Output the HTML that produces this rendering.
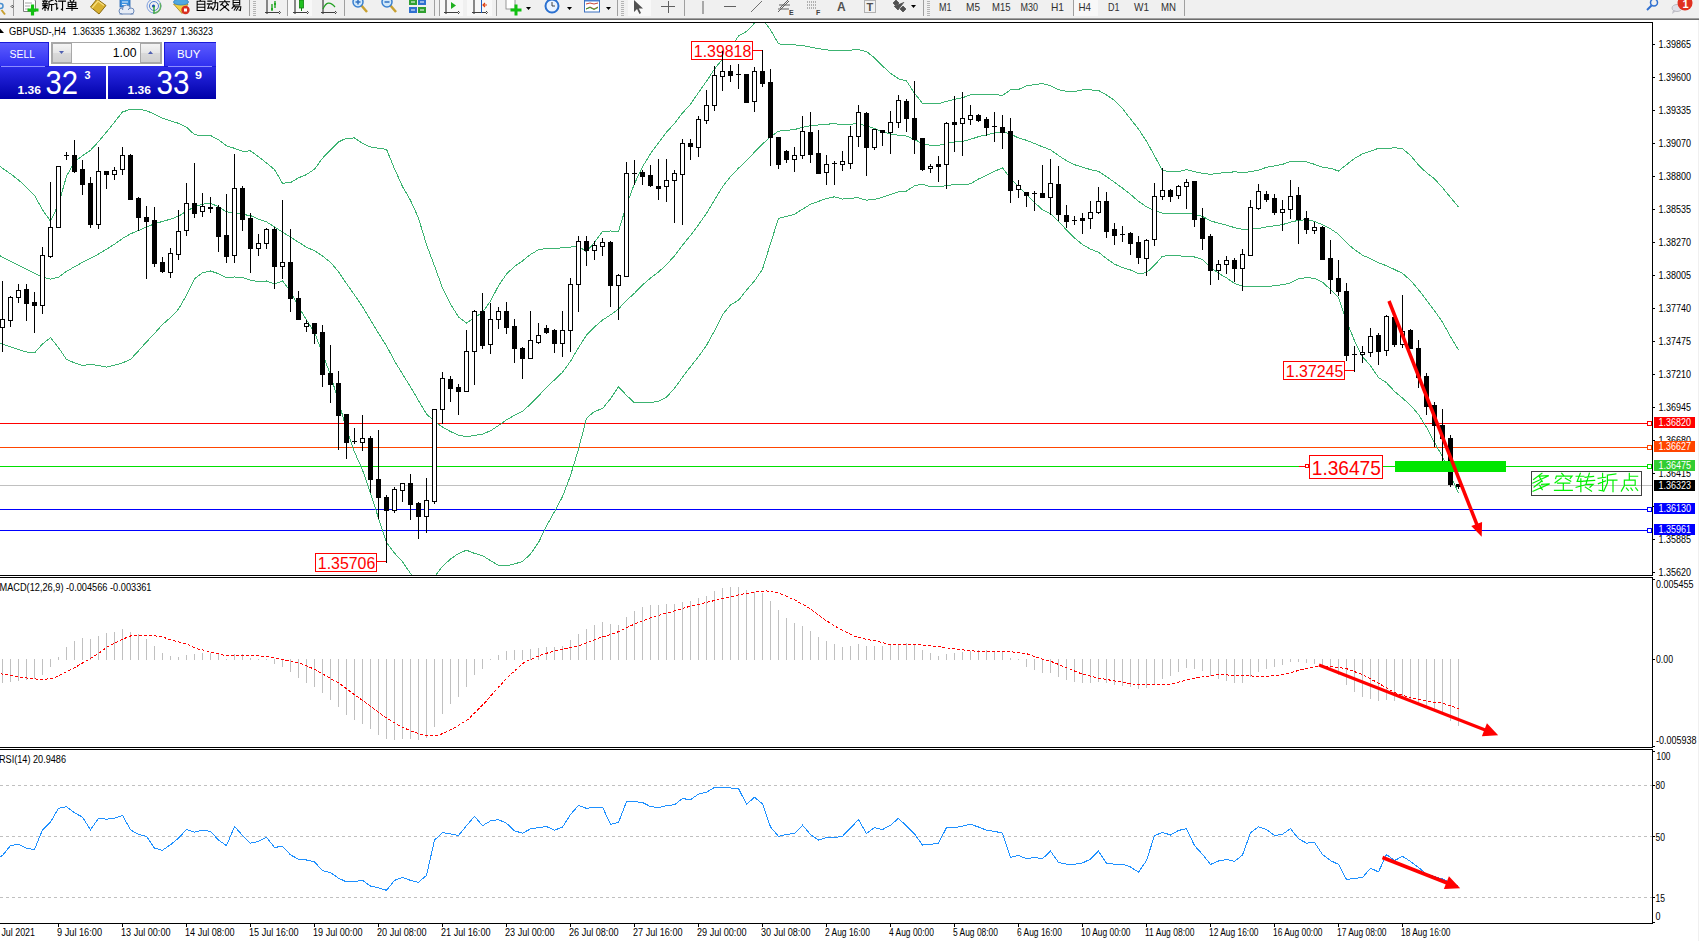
<!DOCTYPE html>
<html><head><meta charset="utf-8"><style>
html,body{margin:0;padding:0;background:#fff;width:1699px;height:941px;overflow:hidden}
svg text{font-family:"Liberation Sans",sans-serif}
</style></head><body>
<svg width="1699" height="941" viewBox="0 0 1699 941" style="display:block;font-family:'Liberation Sans', sans-serif">
<rect x="0" y="0" width="1699" height="941" fill="#ffffff"/>
<g shape-rendering="crispEdges">
<rect x="0" y="22" width="1653" height="1" fill="#000"/>
<rect x="1652" y="22" width="1" height="554" fill="#000"/>
<rect x="0" y="575" width="1653" height="1" fill="#000"/>
<rect x="0" y="577" width="1653" height="1" fill="#000"/>
<rect x="1652" y="577" width="1" height="171" fill="#000"/>
<rect x="0" y="747" width="1653" height="1" fill="#000"/>
<rect x="0" y="749" width="1653" height="1" fill="#000"/>
<rect x="1652" y="749" width="1" height="175" fill="#000"/>
<rect x="0" y="923" width="1653" height="1" fill="#000"/>
</g>
<g shape-rendering="crispEdges">
<rect x="1653" y="44" width="2" height="1" fill="#000"/>
<rect x="1653" y="77" width="2" height="1" fill="#000"/>
<rect x="1653" y="110" width="2" height="1" fill="#000"/>
<rect x="1653" y="143" width="2" height="1" fill="#000"/>
<rect x="1653" y="176" width="2" height="1" fill="#000"/>
<rect x="1653" y="209" width="2" height="1" fill="#000"/>
<rect x="1653" y="242" width="2" height="1" fill="#000"/>
<rect x="1653" y="275" width="2" height="1" fill="#000"/>
<rect x="1653" y="308" width="2" height="1" fill="#000"/>
<rect x="1653" y="341" width="2" height="1" fill="#000"/>
<rect x="1653" y="374" width="2" height="1" fill="#000"/>
<rect x="1653" y="407" width="2" height="1" fill="#000"/>
<rect x="1653" y="440" width="2" height="1" fill="#000"/>
<rect x="1653" y="473" width="2" height="1" fill="#000"/>
<rect x="1653" y="506" width="2" height="1" fill="#000"/>
<rect x="1653" y="539" width="2" height="1" fill="#000"/>
<rect x="1653" y="572" width="2" height="1" fill="#000"/>
</g>
<text x="1658.5" y="47.6" font-size="10" fill="#000" text-anchor="start" font-weight="normal" textLength="32.5" lengthAdjust="spacingAndGlyphs" >1.39865</text>
<text x="1658.5" y="80.6" font-size="10" fill="#000" text-anchor="start" font-weight="normal" textLength="32.5" lengthAdjust="spacingAndGlyphs" >1.39600</text>
<text x="1658.5" y="113.6" font-size="10" fill="#000" text-anchor="start" font-weight="normal" textLength="32.5" lengthAdjust="spacingAndGlyphs" >1.39335</text>
<text x="1658.5" y="146.6" font-size="10" fill="#000" text-anchor="start" font-weight="normal" textLength="32.5" lengthAdjust="spacingAndGlyphs" >1.39070</text>
<text x="1658.5" y="179.6" font-size="10" fill="#000" text-anchor="start" font-weight="normal" textLength="32.5" lengthAdjust="spacingAndGlyphs" >1.38800</text>
<text x="1658.5" y="212.6" font-size="10" fill="#000" text-anchor="start" font-weight="normal" textLength="32.5" lengthAdjust="spacingAndGlyphs" >1.38535</text>
<text x="1658.5" y="245.6" font-size="10" fill="#000" text-anchor="start" font-weight="normal" textLength="32.5" lengthAdjust="spacingAndGlyphs" >1.38270</text>
<text x="1658.5" y="278.6" font-size="10" fill="#000" text-anchor="start" font-weight="normal" textLength="32.5" lengthAdjust="spacingAndGlyphs" >1.38005</text>
<text x="1658.5" y="311.6" font-size="10" fill="#000" text-anchor="start" font-weight="normal" textLength="32.5" lengthAdjust="spacingAndGlyphs" >1.37740</text>
<text x="1658.5" y="344.6" font-size="10" fill="#000" text-anchor="start" font-weight="normal" textLength="32.5" lengthAdjust="spacingAndGlyphs" >1.37475</text>
<text x="1658.5" y="377.6" font-size="10" fill="#000" text-anchor="start" font-weight="normal" textLength="32.5" lengthAdjust="spacingAndGlyphs" >1.37210</text>
<text x="1658.5" y="410.6" font-size="10" fill="#000" text-anchor="start" font-weight="normal" textLength="32.5" lengthAdjust="spacingAndGlyphs" >1.36945</text>
<text x="1658.5" y="443.6" font-size="10" fill="#000" text-anchor="start" font-weight="normal" textLength="32.5" lengthAdjust="spacingAndGlyphs" >1.36680</text>
<text x="1658.5" y="476.6" font-size="10" fill="#000" text-anchor="start" font-weight="normal" textLength="32.5" lengthAdjust="spacingAndGlyphs" >1.36415</text>
<text x="1658.5" y="542.6" font-size="10" fill="#000" text-anchor="start" font-weight="normal" textLength="32.5" lengthAdjust="spacingAndGlyphs" >1.35885</text>
<text x="1658.5" y="575.6" font-size="10" fill="#000" text-anchor="start" font-weight="normal" textLength="32.5" lengthAdjust="spacingAndGlyphs" >1.35620</text>
<g shape-rendering="crispEdges">
<rect x="0" y="485" width="1652" height="1" fill="#c0c0c0"/>
<rect x="0" y="423" width="1652" height="1" fill="#ff0000"/>
<rect x="0" y="447" width="1652" height="1" fill="#ff4500"/>
<rect x="0" y="466" width="1652" height="1" fill="#00e000"/>
<rect x="0" y="509" width="1652" height="1" fill="#0000ff"/>
<rect x="0" y="530" width="1652" height="1" fill="#0000ff"/>
</g>
<g clip-path="url(#mainclip)">
<clipPath id="mainclip"><rect x="0" y="23" width="1652" height="552"/></clipPath>
<polyline points="0.0,166.5 2.5,168.2 10.5,173.8 18.5,180.0 26.5,187.2 34.5,195.4 42.5,209.8 50.5,221.2 58.5,204.3 66.5,176.3 74.5,161.9 82.5,155.6 90.5,150.3 98.5,141.7 106.5,132.1 114.5,122.1 122.5,112.0 130.5,109.3 138.5,109.1 146.5,110.7 154.5,114.1 162.5,118.3 170.5,120.9 178.5,123.3 186.5,127.2 194.5,134.6 202.5,135.7 210.5,135.5 218.5,139.8 226.5,145.8 234.5,148.3 242.5,151.3 250.5,150.9 258.5,156.8 266.5,162.9 274.5,169.6 282.5,183.2 290.5,182.6 298.5,177.8 306.5,174.6 314.5,169.1 322.5,158.3 330.5,149.9 338.5,142.0 346.5,138.1 354.5,138.0 362.5,143.3 370.5,147.0 378.5,148.3 386.5,149.3 394.5,168.8 402.5,186.5 410.5,200.4 418.5,218.1 426.5,244.7 434.5,265.9 442.5,288.0 450.5,304.1 458.5,316.9 466.5,323.0 474.5,317.6 482.5,312.5 490.5,301.0 498.5,285.8 506.5,274.0 514.5,266.5 522.5,260.9 530.5,254.4 538.5,249.8 546.5,248.4 554.5,248.2 562.5,247.9 570.5,247.1 578.5,245.9 586.5,251.9 594.5,242.3 602.5,231.5 610.5,231.0 618.5,231.4 626.5,205.1 634.5,183.6 642.5,166.8 650.5,153.7 658.5,142.7 666.5,132.1 674.5,123.5 682.5,113.0 690.5,104.2 698.5,92.6 706.5,81.2 714.5,69.0 722.5,59.1 730.5,48.1 738.5,36.0 746.5,31.4 754.5,23.2 762.5,19.0 770.5,29.8 778.5,43.9 786.5,44.4 794.5,44.9 802.5,45.4 810.5,47.2 818.5,48.6 826.5,49.9 834.5,50.6 842.5,50.1 850.5,50.1 858.5,49.6 866.5,51.5 874.5,57.8 882.5,65.9 890.5,73.3 898.5,78.8 906.5,81.0 914.5,93.1 922.5,103.4 930.5,103.7 938.5,103.7 946.5,101.4 954.5,99.4 962.5,97.7 970.5,94.9 978.5,94.4 986.5,94.4 994.5,94.6 1002.5,95.4 1010.5,89.9 1018.5,89.5 1026.5,85.9 1034.5,84.6 1042.5,83.6 1050.5,85.8 1058.5,89.8 1066.5,91.3 1074.5,91.4 1082.5,90.0 1090.5,89.9 1098.5,90.4 1106.5,94.9 1114.5,100.3 1122.5,108.6 1130.5,118.9 1138.5,129.0 1146.5,141.2 1154.5,155.7 1162.5,170.6 1170.5,171.5 1178.5,171.7 1186.5,169.5 1194.5,171.7 1202.5,173.2 1210.5,174.3 1218.5,173.2 1226.5,172.6 1234.5,171.8 1242.5,172.4 1250.5,171.8 1258.5,170.2 1266.5,167.3 1274.5,165.9 1282.5,164.4 1290.5,161.5 1298.5,161.8 1306.5,161.9 1314.5,164.3 1322.5,167.3 1330.5,168.3 1338.5,171.0 1346.5,164.7 1354.5,158.4 1362.5,153.9 1370.5,151.3 1378.5,148.3 1386.5,148.7 1394.5,147.6 1402.5,148.7 1410.5,155.5 1418.5,165.0 1426.5,172.7 1434.5,178.8 1442.5,187.7 1450.5,197.4 1458.5,207.0" fill="none" stroke="#3cb371" stroke-width="1" shape-rendering="crispEdges"/>
<polyline points="0.0,255.8 2.5,257.1 10.5,261.1 18.5,265.1 26.5,269.1 34.5,273.1 42.5,277.1 50.5,279.2 58.5,277.2 66.5,271.4 74.5,266.8 82.5,262.3 90.5,258.3 98.5,254.1 106.5,249.3 114.5,244.2 122.5,238.5 130.5,233.8 138.5,230.5 146.5,227.1 154.5,223.8 162.5,221.4 170.5,219.2 178.5,216.2 186.5,211.2 194.5,206.7 202.5,204.2 210.5,203.2 218.5,206.8 226.5,211.8 234.5,212.7 242.5,214.4 250.5,215.6 258.5,219.2 266.5,221.9 274.5,226.8 282.5,232.1 290.5,237.1 298.5,242.2 306.5,247.2 314.5,250.8 322.5,255.9 330.5,262.4 338.5,271.6 346.5,283.6 354.5,295.0 362.5,306.6 370.5,320.1 378.5,333.2 386.5,345.9 394.5,360.9 402.5,374.1 410.5,386.9 418.5,400.6 426.5,414.1 434.5,421.3 442.5,427.1 450.5,431.6 458.5,435.2 466.5,436.6 474.5,435.5 482.5,434.1 490.5,430.8 498.5,425.6 506.5,419.9 514.5,415.2 522.5,411.2 530.5,404.2 538.5,396.1 546.5,387.2 554.5,379.9 562.5,372.3 570.5,361.3 578.5,347.6 586.5,335.1 594.5,326.9 602.5,320.1 610.5,314.9 618.5,309.1 626.5,300.2 634.5,293.3 642.5,284.9 650.5,278.1 658.5,272.0 666.5,264.6 674.5,255.9 682.5,245.2 690.5,235.4 698.5,224.7 706.5,213.3 714.5,199.9 722.5,186.9 730.5,176.5 738.5,168.2 746.5,160.8 754.5,152.1 762.5,144.1 770.5,136.7 778.5,131.2 786.5,130.4 794.5,129.6 802.5,127.3 810.5,125.8 818.5,125.0 826.5,124.2 834.5,123.7 842.5,124.6 850.5,124.1 858.5,123.8 866.5,125.8 874.5,128.6 882.5,131.6 890.5,133.9 898.5,135.2 906.5,136.1 914.5,139.4 922.5,143.8 930.5,145.2 938.5,145.3 946.5,143.5 954.5,141.9 962.5,141.3 970.5,139.3 978.5,136.7 986.5,134.8 994.5,133.0 1002.5,131.6 1010.5,134.2 1018.5,137.9 1026.5,140.3 1034.5,143.5 1042.5,146.8 1050.5,149.8 1058.5,155.5 1066.5,160.7 1074.5,164.7 1082.5,167.2 1090.5,169.6 1098.5,171.3 1106.5,176.7 1114.5,182.2 1122.5,188.1 1130.5,194.4 1138.5,201.3 1146.5,206.9 1154.5,210.4 1162.5,213.3 1170.5,213.7 1178.5,213.7 1186.5,213.1 1194.5,214.3 1202.5,216.4 1210.5,220.8 1218.5,223.2 1226.5,225.2 1234.5,227.6 1242.5,229.3 1250.5,229.1 1258.5,228.6 1266.5,226.9 1274.5,225.8 1282.5,224.6 1290.5,222.2 1298.5,220.3 1306.5,219.8 1314.5,221.3 1322.5,224.8 1330.5,228.9 1338.5,234.2 1346.5,242.8 1354.5,249.6 1362.5,255.2 1370.5,258.6 1378.5,262.9 1386.5,265.7 1394.5,269.5 1402.5,273.4 1410.5,280.4 1418.5,289.7 1426.5,300.1 1434.5,310.7 1442.5,322.1 1450.5,336.6 1458.5,349.9" fill="none" stroke="#3cb371" stroke-width="1" shape-rendering="crispEdges"/>
<polyline points="0.0,343.4 2.5,344.2 10.5,346.9 18.5,349.6 26.5,352.0 34.5,352.9 42.5,344.0 50.5,337.6 58.5,347.6 66.5,359.5 74.5,362.8 82.5,365.5 90.5,364.4 98.5,365.5 106.5,367.2 114.5,365.2 122.5,362.9 130.5,359.5 138.5,350.8 146.5,341.9 154.5,333.5 162.5,324.5 170.5,317.5 178.5,309.2 186.5,295.3 194.5,278.7 202.5,272.7 210.5,271.0 218.5,273.7 226.5,277.8 234.5,277.0 242.5,277.5 250.5,280.3 258.5,281.6 266.5,281.0 274.5,283.9 282.5,281.0 290.5,291.5 298.5,306.5 306.5,319.9 314.5,332.4 322.5,353.5 330.5,375.0 338.5,401.3 346.5,429.1 354.5,452.0 362.5,469.9 370.5,493.3 378.5,518.1 386.5,542.5 394.5,553.1 402.5,561.8 410.5,573.5 418.5,583.1 426.5,583.6 434.5,576.7 442.5,566.2 450.5,559.1 458.5,553.5 466.5,550.2 474.5,553.4 482.5,555.6 490.5,560.6 498.5,565.4 506.5,565.7 514.5,563.9 522.5,561.5 530.5,554.1 538.5,542.5 546.5,526.1 554.5,511.7 562.5,496.7 570.5,475.5 578.5,449.2 586.5,418.2 594.5,411.4 602.5,408.6 610.5,398.8 618.5,386.8 626.5,395.3 634.5,403.0 642.5,402.9 650.5,402.6 658.5,401.3 666.5,397.2 674.5,388.3 682.5,377.3 690.5,366.7 698.5,356.7 706.5,345.4 714.5,330.8 722.5,314.8 730.5,304.9 738.5,300.3 746.5,290.1 754.5,280.9 762.5,269.2 770.5,243.6 778.5,218.4 786.5,216.5 794.5,214.2 802.5,209.2 810.5,204.3 818.5,201.4 826.5,198.5 834.5,196.8 842.5,199.1 850.5,198.1 858.5,197.9 866.5,200.2 874.5,199.3 882.5,197.3 890.5,194.6 898.5,191.7 906.5,191.1 914.5,185.8 922.5,184.1 930.5,186.7 938.5,186.9 946.5,185.6 954.5,184.5 962.5,184.9 970.5,183.8 978.5,179.0 986.5,175.3 994.5,171.4 1002.5,167.7 1010.5,178.6 1018.5,186.3 1026.5,194.7 1034.5,202.4 1042.5,209.9 1050.5,213.8 1058.5,221.2 1066.5,230.0 1074.5,238.0 1082.5,244.5 1090.5,249.2 1098.5,252.2 1106.5,258.5 1114.5,264.2 1122.5,267.5 1130.5,270.0 1138.5,273.6 1146.5,272.7 1154.5,265.2 1162.5,256.1 1170.5,255.8 1178.5,255.7 1186.5,256.6 1194.5,257.0 1202.5,259.6 1210.5,267.2 1218.5,273.3 1226.5,277.8 1234.5,283.4 1242.5,286.2 1250.5,286.3 1258.5,286.9 1266.5,286.6 1274.5,285.7 1282.5,284.7 1290.5,282.9 1298.5,278.8 1306.5,277.6 1314.5,278.3 1322.5,282.2 1330.5,289.5 1338.5,297.3 1346.5,320.9 1354.5,340.7 1362.5,356.6 1370.5,365.8 1378.5,377.5 1386.5,382.7 1394.5,391.4 1402.5,398.0 1410.5,405.3 1418.5,414.4 1426.5,427.4 1434.5,442.6 1442.5,456.6 1450.5,475.7 1458.5,492.8" fill="none" stroke="#3cb371" stroke-width="1" shape-rendering="crispEdges"/>
</g>
<g shape-rendering="crispEdges">
<rect x="753" y="50" width="9" height="1" fill="#ff0000"/>
</g>
<rect x="691.5" y="41.5" width="61" height="18" fill="#fff" stroke="#ff0000" stroke-width="1" shape-rendering="crispEdges"/>
<text x="693.8" y="57" font-size="16.5" fill="#ff0000" text-anchor="start" font-weight="normal" textLength="57.5" lengthAdjust="spacingAndGlyphs" >1.39818</text>
<g shape-rendering="crispEdges">
<rect x="377" y="561" width="9" height="1" fill="#ff0000"/>
</g>
<rect x="315.5" y="553.5" width="61" height="18" fill="#fff" stroke="#ff0000" stroke-width="1" shape-rendering="crispEdges"/>
<text x="317.8" y="569" font-size="16.5" fill="#ff0000" text-anchor="start" font-weight="normal" textLength="57.5" lengthAdjust="spacingAndGlyphs" >1.35706</text>
<g shape-rendering="crispEdges">
<rect x="1345" y="370" width="9" height="1" fill="#ff0000"/>
</g>
<rect x="1283.5" y="361.5" width="61" height="18" fill="#fff" stroke="#ff0000" stroke-width="1" shape-rendering="crispEdges"/>
<text x="1285.8" y="377" font-size="16.5" fill="#ff0000" text-anchor="start" font-weight="normal" textLength="57.5" lengthAdjust="spacingAndGlyphs" >1.37245</text>
<g shape-rendering="crispEdges">
<rect x="1299" y="466" width="6" height="1" fill="#ff0000"/>
</g>
<rect x="1305.5" y="464.5" width="3" height="3" fill="#fff" stroke="#ff0000" stroke-width="1" shape-rendering="crispEdges"/>
<rect x="1309.5" y="455.5" width="73" height="23" fill="#fff" stroke="#ff0000" stroke-width="1" shape-rendering="crispEdges"/>
<text x="1311.8" y="474.5" font-size="21" fill="#ff0000" text-anchor="start" font-weight="normal" textLength="69" lengthAdjust="spacingAndGlyphs" >1.36475</text>
<g shape-rendering="crispEdges" clip-path="url(#mainclip)">
<rect x="2" y="281" width="1" height="71" fill="#000"/>
<rect x="0" y="319" width="5" height="9" fill="#000"/>
<rect x="1" y="320" width="3" height="7" fill="#fff"/>
<rect x="10" y="296" width="1" height="31" fill="#000"/>
<rect x="8" y="297" width="5" height="24" fill="#000"/>
<rect x="9" y="298" width="3" height="22" fill="#fff"/>
<rect x="18" y="284" width="1" height="19" fill="#000"/>
<rect x="16" y="290" width="5" height="8" fill="#000"/>
<rect x="17" y="291" width="3" height="6" fill="#fff"/>
<rect x="26" y="284" width="1" height="37" fill="#000"/>
<rect x="24" y="289" width="5" height="15" fill="#000"/>
<rect x="34" y="292" width="1" height="41" fill="#000"/>
<rect x="32" y="302" width="5" height="4" fill="#000"/>
<rect x="42" y="247" width="1" height="67" fill="#000"/>
<rect x="40" y="255" width="5" height="51" fill="#000"/>
<rect x="41" y="256" width="3" height="49" fill="#fff"/>
<rect x="50" y="182" width="1" height="76" fill="#000"/>
<rect x="48" y="227" width="5" height="30" fill="#000"/>
<rect x="49" y="228" width="3" height="28" fill="#fff"/>
<rect x="58" y="166" width="1" height="62" fill="#000"/>
<rect x="56" y="166" width="5" height="62" fill="#000"/>
<rect x="57" y="167" width="3" height="60" fill="#fff"/>
<rect x="66" y="152" width="1" height="8" fill="#000"/>
<rect x="64" y="155" width="5" height="1" fill="#000"/>
<rect x="74" y="140" width="1" height="33" fill="#000"/>
<rect x="72" y="155" width="5" height="17" fill="#000"/>
<rect x="82" y="160" width="1" height="35" fill="#000"/>
<rect x="80" y="169" width="5" height="16" fill="#000"/>
<rect x="90" y="177" width="1" height="51" fill="#000"/>
<rect x="88" y="183" width="5" height="42" fill="#000"/>
<rect x="98" y="147" width="1" height="82" fill="#000"/>
<rect x="96" y="171" width="5" height="54" fill="#000"/>
<rect x="97" y="172" width="3" height="52" fill="#fff"/>
<rect x="106" y="171" width="1" height="18" fill="#000"/>
<rect x="104" y="171" width="5" height="4" fill="#000"/>
<rect x="114" y="167" width="1" height="13" fill="#000"/>
<rect x="112" y="170" width="5" height="5" fill="#000"/>
<rect x="113" y="171" width="3" height="3" fill="#fff"/>
<rect x="122" y="147" width="1" height="28" fill="#000"/>
<rect x="120" y="155" width="5" height="15" fill="#000"/>
<rect x="121" y="156" width="3" height="13" fill="#fff"/>
<rect x="130" y="154" width="1" height="46" fill="#000"/>
<rect x="128" y="155" width="5" height="45" fill="#000"/>
<rect x="138" y="197" width="1" height="34" fill="#000"/>
<rect x="136" y="198" width="5" height="20" fill="#000"/>
<rect x="146" y="206" width="1" height="73" fill="#000"/>
<rect x="144" y="217" width="5" height="5" fill="#000"/>
<rect x="154" y="207" width="1" height="60" fill="#000"/>
<rect x="152" y="220" width="5" height="44" fill="#000"/>
<rect x="162" y="257" width="1" height="16" fill="#000"/>
<rect x="160" y="262" width="5" height="10" fill="#000"/>
<rect x="170" y="248" width="1" height="30" fill="#000"/>
<rect x="168" y="253" width="5" height="20" fill="#000"/>
<rect x="169" y="254" width="3" height="18" fill="#fff"/>
<rect x="178" y="210" width="1" height="50" fill="#000"/>
<rect x="176" y="231" width="5" height="24" fill="#000"/>
<rect x="177" y="232" width="3" height="22" fill="#fff"/>
<rect x="186" y="183" width="1" height="53" fill="#000"/>
<rect x="184" y="203" width="5" height="28" fill="#000"/>
<rect x="185" y="204" width="3" height="26" fill="#fff"/>
<rect x="194" y="163" width="1" height="55" fill="#000"/>
<rect x="192" y="203" width="5" height="11" fill="#000"/>
<rect x="202" y="193" width="1" height="24" fill="#000"/>
<rect x="200" y="206" width="5" height="6" fill="#000"/>
<rect x="201" y="207" width="3" height="4" fill="#fff"/>
<rect x="210" y="197" width="1" height="16" fill="#000"/>
<rect x="208" y="207" width="5" height="2" fill="#000"/>
<rect x="218" y="205" width="1" height="47" fill="#000"/>
<rect x="216" y="207" width="5" height="30" fill="#000"/>
<rect x="226" y="194" width="1" height="69" fill="#000"/>
<rect x="224" y="235" width="5" height="22" fill="#000"/>
<rect x="234" y="154" width="1" height="109" fill="#000"/>
<rect x="232" y="188" width="5" height="68" fill="#000"/>
<rect x="233" y="189" width="3" height="66" fill="#fff"/>
<rect x="242" y="186" width="1" height="45" fill="#000"/>
<rect x="240" y="188" width="5" height="32" fill="#000"/>
<rect x="250" y="213" width="1" height="60" fill="#000"/>
<rect x="248" y="218" width="5" height="31" fill="#000"/>
<rect x="258" y="234" width="1" height="22" fill="#000"/>
<rect x="256" y="243" width="5" height="6" fill="#000"/>
<rect x="257" y="244" width="3" height="4" fill="#fff"/>
<rect x="266" y="228" width="1" height="21" fill="#000"/>
<rect x="264" y="229" width="5" height="15" fill="#000"/>
<rect x="265" y="230" width="3" height="13" fill="#fff"/>
<rect x="274" y="227" width="1" height="62" fill="#000"/>
<rect x="272" y="229" width="5" height="38" fill="#000"/>
<rect x="282" y="200" width="1" height="79" fill="#000"/>
<rect x="280" y="262" width="5" height="5" fill="#000"/>
<rect x="281" y="263" width="3" height="3" fill="#fff"/>
<rect x="290" y="229" width="1" height="83" fill="#000"/>
<rect x="288" y="262" width="5" height="37" fill="#000"/>
<rect x="298" y="291" width="1" height="29" fill="#000"/>
<rect x="296" y="298" width="5" height="22" fill="#000"/>
<rect x="306" y="320" width="1" height="12" fill="#000"/>
<rect x="304" y="323" width="5" height="4" fill="#000"/>
<rect x="305" y="324" width="3" height="2" fill="#fff"/>
<rect x="314" y="323" width="1" height="21" fill="#000"/>
<rect x="312" y="323" width="5" height="11" fill="#000"/>
<rect x="322" y="325" width="1" height="62" fill="#000"/>
<rect x="320" y="332" width="5" height="43" fill="#000"/>
<rect x="330" y="345" width="1" height="58" fill="#000"/>
<rect x="328" y="373" width="5" height="12" fill="#000"/>
<rect x="338" y="371" width="1" height="79" fill="#000"/>
<rect x="336" y="383" width="5" height="33" fill="#000"/>
<rect x="346" y="414" width="1" height="45" fill="#000"/>
<rect x="344" y="414" width="5" height="29" fill="#000"/>
<rect x="354" y="428" width="1" height="16" fill="#000"/>
<rect x="352" y="441" width="5" height="1" fill="#000"/>
<rect x="362" y="415" width="1" height="36" fill="#000"/>
<rect x="360" y="438" width="5" height="5" fill="#000"/>
<rect x="361" y="439" width="3" height="3" fill="#fff"/>
<rect x="370" y="436" width="1" height="57" fill="#000"/>
<rect x="368" y="438" width="5" height="42" fill="#000"/>
<rect x="378" y="430" width="1" height="89" fill="#000"/>
<rect x="376" y="479" width="5" height="19" fill="#000"/>
<rect x="386" y="495" width="1" height="68" fill="#000"/>
<rect x="384" y="497" width="5" height="14" fill="#000"/>
<rect x="394" y="487" width="1" height="26" fill="#000"/>
<rect x="392" y="489" width="5" height="22" fill="#000"/>
<rect x="393" y="490" width="3" height="20" fill="#fff"/>
<rect x="402" y="483" width="1" height="19" fill="#000"/>
<rect x="400" y="483" width="5" height="8" fill="#000"/>
<rect x="401" y="484" width="3" height="6" fill="#fff"/>
<rect x="410" y="474" width="1" height="46" fill="#000"/>
<rect x="408" y="483" width="5" height="22" fill="#000"/>
<rect x="418" y="502" width="1" height="37" fill="#000"/>
<rect x="416" y="503" width="5" height="14" fill="#000"/>
<rect x="426" y="478" width="1" height="55" fill="#000"/>
<rect x="424" y="500" width="5" height="17" fill="#000"/>
<rect x="425" y="501" width="3" height="15" fill="#fff"/>
<rect x="434" y="409" width="1" height="95" fill="#000"/>
<rect x="432" y="409" width="5" height="93" fill="#000"/>
<rect x="433" y="410" width="3" height="91" fill="#fff"/>
<rect x="442" y="372" width="1" height="52" fill="#000"/>
<rect x="440" y="378" width="5" height="32" fill="#000"/>
<rect x="441" y="379" width="3" height="30" fill="#fff"/>
<rect x="450" y="376" width="1" height="26" fill="#000"/>
<rect x="448" y="379" width="5" height="10" fill="#000"/>
<rect x="458" y="384" width="1" height="31" fill="#000"/>
<rect x="456" y="387" width="5" height="5" fill="#000"/>
<rect x="466" y="330" width="1" height="62" fill="#000"/>
<rect x="464" y="351" width="5" height="41" fill="#000"/>
<rect x="465" y="352" width="3" height="39" fill="#fff"/>
<rect x="474" y="310" width="1" height="75" fill="#000"/>
<rect x="472" y="311" width="5" height="41" fill="#000"/>
<rect x="473" y="312" width="3" height="39" fill="#fff"/>
<rect x="482" y="293" width="1" height="56" fill="#000"/>
<rect x="480" y="311" width="5" height="35" fill="#000"/>
<rect x="490" y="303" width="1" height="51" fill="#000"/>
<rect x="488" y="319" width="5" height="26" fill="#000"/>
<rect x="489" y="320" width="3" height="24" fill="#fff"/>
<rect x="498" y="307" width="1" height="22" fill="#000"/>
<rect x="496" y="311" width="5" height="9" fill="#000"/>
<rect x="497" y="312" width="3" height="7" fill="#fff"/>
<rect x="506" y="302" width="1" height="32" fill="#000"/>
<rect x="504" y="311" width="5" height="17" fill="#000"/>
<rect x="514" y="319" width="1" height="44" fill="#000"/>
<rect x="512" y="326" width="5" height="23" fill="#000"/>
<rect x="522" y="347" width="1" height="32" fill="#000"/>
<rect x="520" y="348" width="5" height="11" fill="#000"/>
<rect x="530" y="311" width="1" height="48" fill="#000"/>
<rect x="528" y="340" width="5" height="19" fill="#000"/>
<rect x="529" y="341" width="3" height="17" fill="#fff"/>
<rect x="538" y="323" width="1" height="21" fill="#000"/>
<rect x="536" y="335" width="5" height="8" fill="#000"/>
<rect x="537" y="336" width="3" height="6" fill="#fff"/>
<rect x="546" y="325" width="1" height="9" fill="#000"/>
<rect x="544" y="328" width="5" height="5" fill="#000"/>
<rect x="554" y="329" width="1" height="24" fill="#000"/>
<rect x="552" y="330" width="5" height="14" fill="#000"/>
<rect x="562" y="311" width="1" height="46" fill="#000"/>
<rect x="560" y="330" width="5" height="14" fill="#000"/>
<rect x="561" y="331" width="3" height="12" fill="#fff"/>
<rect x="570" y="278" width="1" height="74" fill="#000"/>
<rect x="568" y="284" width="5" height="47" fill="#000"/>
<rect x="569" y="285" width="3" height="45" fill="#fff"/>
<rect x="578" y="236" width="1" height="76" fill="#000"/>
<rect x="576" y="241" width="5" height="44" fill="#000"/>
<rect x="577" y="242" width="3" height="42" fill="#fff"/>
<rect x="586" y="236" width="1" height="30" fill="#000"/>
<rect x="584" y="241" width="5" height="10" fill="#000"/>
<rect x="594" y="241" width="1" height="19" fill="#000"/>
<rect x="592" y="245" width="5" height="6" fill="#000"/>
<rect x="593" y="246" width="3" height="4" fill="#fff"/>
<rect x="602" y="238" width="1" height="18" fill="#000"/>
<rect x="600" y="242" width="5" height="5" fill="#000"/>
<rect x="601" y="243" width="3" height="3" fill="#fff"/>
<rect x="610" y="241" width="1" height="66" fill="#000"/>
<rect x="608" y="242" width="5" height="44" fill="#000"/>
<rect x="618" y="274" width="1" height="46" fill="#000"/>
<rect x="616" y="275" width="5" height="11" fill="#000"/>
<rect x="617" y="276" width="3" height="9" fill="#fff"/>
<rect x="626" y="162" width="1" height="115" fill="#000"/>
<rect x="624" y="173" width="5" height="104" fill="#000"/>
<rect x="625" y="174" width="3" height="102" fill="#fff"/>
<rect x="634" y="160" width="1" height="25" fill="#000"/>
<rect x="632" y="173" width="5" height="1" fill="#000"/>
<rect x="642" y="170" width="1" height="15" fill="#000"/>
<rect x="640" y="172" width="5" height="5" fill="#000"/>
<rect x="650" y="165" width="1" height="22" fill="#000"/>
<rect x="648" y="175" width="5" height="11" fill="#000"/>
<rect x="658" y="159" width="1" height="41" fill="#000"/>
<rect x="656" y="186" width="5" height="3" fill="#000"/>
<rect x="666" y="159" width="1" height="43" fill="#000"/>
<rect x="664" y="180" width="5" height="7" fill="#000"/>
<rect x="665" y="181" width="3" height="5" fill="#fff"/>
<rect x="674" y="170" width="1" height="53" fill="#000"/>
<rect x="672" y="173" width="5" height="8" fill="#000"/>
<rect x="673" y="174" width="3" height="6" fill="#fff"/>
<rect x="682" y="139" width="1" height="86" fill="#000"/>
<rect x="680" y="143" width="5" height="32" fill="#000"/>
<rect x="681" y="144" width="3" height="30" fill="#fff"/>
<rect x="690" y="139" width="1" height="21" fill="#000"/>
<rect x="688" y="143" width="5" height="4" fill="#000"/>
<rect x="698" y="116" width="1" height="41" fill="#000"/>
<rect x="696" y="119" width="5" height="29" fill="#000"/>
<rect x="697" y="120" width="3" height="27" fill="#fff"/>
<rect x="706" y="90" width="1" height="34" fill="#000"/>
<rect x="704" y="105" width="5" height="16" fill="#000"/>
<rect x="705" y="106" width="3" height="14" fill="#fff"/>
<rect x="714" y="66" width="1" height="45" fill="#000"/>
<rect x="712" y="75" width="5" height="31" fill="#000"/>
<rect x="713" y="76" width="3" height="29" fill="#fff"/>
<rect x="722" y="51" width="1" height="40" fill="#000"/>
<rect x="720" y="71" width="5" height="6" fill="#000"/>
<rect x="721" y="72" width="3" height="4" fill="#fff"/>
<rect x="730" y="65" width="1" height="17" fill="#000"/>
<rect x="728" y="71" width="5" height="5" fill="#000"/>
<rect x="738" y="64" width="1" height="25" fill="#000"/>
<rect x="736" y="74" width="5" height="1" fill="#000"/>
<rect x="746" y="74" width="1" height="29" fill="#000"/>
<rect x="744" y="74" width="5" height="29" fill="#000"/>
<rect x="754" y="67" width="1" height="45" fill="#000"/>
<rect x="752" y="71" width="5" height="31" fill="#000"/>
<rect x="753" y="72" width="3" height="29" fill="#fff"/>
<rect x="762" y="50" width="1" height="37" fill="#000"/>
<rect x="760" y="71" width="5" height="13" fill="#000"/>
<rect x="770" y="69" width="1" height="97" fill="#000"/>
<rect x="768" y="82" width="5" height="56" fill="#000"/>
<rect x="778" y="137" width="1" height="32" fill="#000"/>
<rect x="776" y="137" width="5" height="28" fill="#000"/>
<rect x="786" y="150" width="1" height="13" fill="#000"/>
<rect x="784" y="151" width="5" height="9" fill="#000"/>
<rect x="794" y="147" width="1" height="25" fill="#000"/>
<rect x="792" y="155" width="5" height="5" fill="#000"/>
<rect x="793" y="156" width="3" height="3" fill="#fff"/>
<rect x="802" y="116" width="1" height="43" fill="#000"/>
<rect x="800" y="131" width="5" height="25" fill="#000"/>
<rect x="801" y="132" width="3" height="23" fill="#fff"/>
<rect x="810" y="112" width="1" height="51" fill="#000"/>
<rect x="808" y="132" width="5" height="23" fill="#000"/>
<rect x="818" y="130" width="1" height="44" fill="#000"/>
<rect x="816" y="153" width="5" height="21" fill="#000"/>
<rect x="826" y="155" width="1" height="30" fill="#000"/>
<rect x="824" y="164" width="5" height="9" fill="#000"/>
<rect x="825" y="165" width="3" height="7" fill="#fff"/>
<rect x="834" y="161" width="1" height="24" fill="#000"/>
<rect x="832" y="163" width="5" height="1" fill="#000"/>
<rect x="842" y="151" width="1" height="20" fill="#000"/>
<rect x="840" y="161" width="5" height="4" fill="#000"/>
<rect x="841" y="162" width="3" height="2" fill="#fff"/>
<rect x="850" y="126" width="1" height="43" fill="#000"/>
<rect x="848" y="136" width="5" height="28" fill="#000"/>
<rect x="849" y="137" width="3" height="26" fill="#fff"/>
<rect x="858" y="105" width="1" height="42" fill="#000"/>
<rect x="856" y="112" width="5" height="25" fill="#000"/>
<rect x="857" y="113" width="3" height="23" fill="#fff"/>
<rect x="866" y="112" width="1" height="64" fill="#000"/>
<rect x="864" y="113" width="5" height="35" fill="#000"/>
<rect x="874" y="129" width="1" height="21" fill="#000"/>
<rect x="872" y="129" width="5" height="19" fill="#000"/>
<rect x="873" y="130" width="3" height="17" fill="#fff"/>
<rect x="882" y="130" width="1" height="16" fill="#000"/>
<rect x="880" y="130" width="5" height="3" fill="#000"/>
<rect x="890" y="111" width="1" height="43" fill="#000"/>
<rect x="888" y="122" width="5" height="11" fill="#000"/>
<rect x="889" y="123" width="3" height="9" fill="#fff"/>
<rect x="898" y="95" width="1" height="33" fill="#000"/>
<rect x="896" y="100" width="5" height="23" fill="#000"/>
<rect x="897" y="101" width="3" height="21" fill="#fff"/>
<rect x="906" y="99" width="1" height="33" fill="#000"/>
<rect x="904" y="101" width="5" height="18" fill="#000"/>
<rect x="914" y="81" width="1" height="73" fill="#000"/>
<rect x="912" y="118" width="5" height="22" fill="#000"/>
<rect x="922" y="138" width="1" height="33" fill="#000"/>
<rect x="920" y="138" width="5" height="32" fill="#000"/>
<rect x="930" y="164" width="1" height="9" fill="#000"/>
<rect x="928" y="166" width="5" height="3" fill="#000"/>
<rect x="929" y="167" width="3" height="1" fill="#fff"/>
<rect x="938" y="156" width="1" height="26" fill="#000"/>
<rect x="936" y="164" width="5" height="3" fill="#000"/>
<rect x="946" y="122" width="1" height="67" fill="#000"/>
<rect x="944" y="123" width="5" height="42" fill="#000"/>
<rect x="945" y="124" width="3" height="40" fill="#fff"/>
<rect x="954" y="96" width="1" height="56" fill="#000"/>
<rect x="952" y="122" width="5" height="3" fill="#000"/>
<rect x="962" y="92" width="1" height="64" fill="#000"/>
<rect x="960" y="118" width="5" height="6" fill="#000"/>
<rect x="961" y="119" width="3" height="4" fill="#fff"/>
<rect x="970" y="105" width="1" height="20" fill="#000"/>
<rect x="968" y="115" width="5" height="5" fill="#000"/>
<rect x="969" y="116" width="3" height="3" fill="#fff"/>
<rect x="978" y="114" width="1" height="8" fill="#000"/>
<rect x="976" y="115" width="5" height="6" fill="#000"/>
<rect x="986" y="117" width="1" height="19" fill="#000"/>
<rect x="984" y="119" width="5" height="9" fill="#000"/>
<rect x="994" y="112" width="1" height="30" fill="#000"/>
<rect x="992" y="126" width="5" height="1" fill="#000"/>
<rect x="1002" y="115" width="1" height="34" fill="#000"/>
<rect x="1000" y="127" width="5" height="6" fill="#000"/>
<rect x="1010" y="118" width="1" height="85" fill="#000"/>
<rect x="1008" y="131" width="5" height="60" fill="#000"/>
<rect x="1018" y="180" width="1" height="18" fill="#000"/>
<rect x="1016" y="185" width="5" height="5" fill="#000"/>
<rect x="1017" y="186" width="3" height="3" fill="#fff"/>
<rect x="1026" y="192" width="1" height="15" fill="#000"/>
<rect x="1024" y="192" width="5" height="4" fill="#000"/>
<rect x="1034" y="191" width="1" height="20" fill="#000"/>
<rect x="1032" y="193" width="5" height="1" fill="#000"/>
<rect x="1042" y="165" width="1" height="33" fill="#000"/>
<rect x="1040" y="193" width="5" height="5" fill="#000"/>
<rect x="1050" y="159" width="1" height="56" fill="#000"/>
<rect x="1048" y="183" width="5" height="15" fill="#000"/>
<rect x="1049" y="184" width="3" height="13" fill="#fff"/>
<rect x="1058" y="166" width="1" height="55" fill="#000"/>
<rect x="1056" y="184" width="5" height="31" fill="#000"/>
<rect x="1066" y="205" width="1" height="23" fill="#000"/>
<rect x="1064" y="215" width="5" height="7" fill="#000"/>
<rect x="1074" y="216" width="1" height="9" fill="#000"/>
<rect x="1072" y="220" width="5" height="1" fill="#000"/>
<rect x="1082" y="213" width="1" height="21" fill="#000"/>
<rect x="1080" y="218" width="5" height="3" fill="#000"/>
<rect x="1090" y="201" width="1" height="28" fill="#000"/>
<rect x="1088" y="212" width="5" height="7" fill="#000"/>
<rect x="1089" y="213" width="3" height="5" fill="#fff"/>
<rect x="1098" y="187" width="1" height="27" fill="#000"/>
<rect x="1096" y="201" width="5" height="12" fill="#000"/>
<rect x="1097" y="202" width="3" height="10" fill="#fff"/>
<rect x="1106" y="192" width="1" height="46" fill="#000"/>
<rect x="1104" y="201" width="5" height="31" fill="#000"/>
<rect x="1114" y="223" width="1" height="22" fill="#000"/>
<rect x="1112" y="229" width="5" height="7" fill="#000"/>
<rect x="1122" y="226" width="1" height="16" fill="#000"/>
<rect x="1120" y="234" width="5" height="1" fill="#000"/>
<rect x="1130" y="232" width="1" height="23" fill="#000"/>
<rect x="1128" y="233" width="5" height="11" fill="#000"/>
<rect x="1138" y="236" width="1" height="28" fill="#000"/>
<rect x="1136" y="242" width="5" height="16" fill="#000"/>
<rect x="1146" y="239" width="1" height="37" fill="#000"/>
<rect x="1144" y="240" width="5" height="19" fill="#000"/>
<rect x="1145" y="241" width="3" height="17" fill="#fff"/>
<rect x="1154" y="183" width="1" height="63" fill="#000"/>
<rect x="1152" y="196" width="5" height="44" fill="#000"/>
<rect x="1153" y="197" width="3" height="42" fill="#fff"/>
<rect x="1162" y="168" width="1" height="32" fill="#000"/>
<rect x="1160" y="190" width="5" height="7" fill="#000"/>
<rect x="1161" y="191" width="3" height="5" fill="#fff"/>
<rect x="1170" y="189" width="1" height="13" fill="#000"/>
<rect x="1168" y="190" width="5" height="7" fill="#000"/>
<rect x="1178" y="185" width="1" height="14" fill="#000"/>
<rect x="1176" y="186" width="5" height="10" fill="#000"/>
<rect x="1177" y="187" width="3" height="8" fill="#fff"/>
<rect x="1186" y="179" width="1" height="30" fill="#000"/>
<rect x="1184" y="182" width="5" height="5" fill="#000"/>
<rect x="1185" y="183" width="3" height="3" fill="#fff"/>
<rect x="1194" y="181" width="1" height="46" fill="#000"/>
<rect x="1192" y="181" width="5" height="39" fill="#000"/>
<rect x="1202" y="208" width="1" height="42" fill="#000"/>
<rect x="1200" y="218" width="5" height="21" fill="#000"/>
<rect x="1210" y="234" width="1" height="51" fill="#000"/>
<rect x="1208" y="236" width="5" height="35" fill="#000"/>
<rect x="1218" y="260" width="1" height="20" fill="#000"/>
<rect x="1216" y="264" width="5" height="7" fill="#000"/>
<rect x="1217" y="265" width="3" height="5" fill="#fff"/>
<rect x="1226" y="256" width="1" height="18" fill="#000"/>
<rect x="1224" y="260" width="5" height="5" fill="#000"/>
<rect x="1225" y="261" width="3" height="3" fill="#fff"/>
<rect x="1234" y="258" width="1" height="24" fill="#000"/>
<rect x="1232" y="260" width="5" height="9" fill="#000"/>
<rect x="1242" y="249" width="1" height="42" fill="#000"/>
<rect x="1240" y="254" width="5" height="15" fill="#000"/>
<rect x="1241" y="255" width="3" height="13" fill="#fff"/>
<rect x="1250" y="200" width="1" height="56" fill="#000"/>
<rect x="1248" y="207" width="5" height="49" fill="#000"/>
<rect x="1249" y="208" width="3" height="47" fill="#fff"/>
<rect x="1258" y="184" width="1" height="26" fill="#000"/>
<rect x="1256" y="191" width="5" height="18" fill="#000"/>
<rect x="1257" y="192" width="3" height="16" fill="#fff"/>
<rect x="1266" y="191" width="1" height="11" fill="#000"/>
<rect x="1264" y="194" width="5" height="6" fill="#000"/>
<rect x="1274" y="194" width="1" height="21" fill="#000"/>
<rect x="1272" y="198" width="5" height="15" fill="#000"/>
<rect x="1282" y="200" width="1" height="31" fill="#000"/>
<rect x="1280" y="209" width="5" height="4" fill="#000"/>
<rect x="1281" y="210" width="3" height="2" fill="#fff"/>
<rect x="1290" y="180" width="1" height="39" fill="#000"/>
<rect x="1288" y="196" width="5" height="14" fill="#000"/>
<rect x="1289" y="197" width="3" height="12" fill="#fff"/>
<rect x="1298" y="187" width="1" height="57" fill="#000"/>
<rect x="1296" y="195" width="5" height="25" fill="#000"/>
<rect x="1306" y="211" width="1" height="23" fill="#000"/>
<rect x="1304" y="218" width="5" height="12" fill="#000"/>
<rect x="1314" y="222" width="1" height="12" fill="#000"/>
<rect x="1312" y="227" width="5" height="4" fill="#000"/>
<rect x="1313" y="228" width="3" height="2" fill="#fff"/>
<rect x="1322" y="226" width="1" height="34" fill="#000"/>
<rect x="1320" y="227" width="5" height="33" fill="#000"/>
<rect x="1330" y="240" width="1" height="54" fill="#000"/>
<rect x="1328" y="258" width="5" height="22" fill="#000"/>
<rect x="1338" y="260" width="1" height="36" fill="#000"/>
<rect x="1336" y="278" width="5" height="14" fill="#000"/>
<rect x="1346" y="283" width="1" height="78" fill="#000"/>
<rect x="1344" y="291" width="5" height="65" fill="#000"/>
<rect x="1354" y="346" width="1" height="26" fill="#000"/>
<rect x="1352" y="354" width="5" height="1" fill="#000"/>
<rect x="1362" y="346" width="1" height="17" fill="#000"/>
<rect x="1360" y="352" width="5" height="3" fill="#000"/>
<rect x="1361" y="353" width="3" height="1" fill="#fff"/>
<rect x="1370" y="328" width="1" height="29" fill="#000"/>
<rect x="1368" y="336" width="5" height="17" fill="#000"/>
<rect x="1369" y="337" width="3" height="15" fill="#fff"/>
<rect x="1378" y="333" width="1" height="32" fill="#000"/>
<rect x="1376" y="335" width="5" height="17" fill="#000"/>
<rect x="1386" y="315" width="1" height="41" fill="#000"/>
<rect x="1384" y="316" width="5" height="35" fill="#000"/>
<rect x="1385" y="317" width="3" height="33" fill="#fff"/>
<rect x="1394" y="317" width="1" height="30" fill="#000"/>
<rect x="1392" y="317" width="5" height="28" fill="#000"/>
<rect x="1402" y="295" width="1" height="53" fill="#000"/>
<rect x="1400" y="331" width="5" height="14" fill="#000"/>
<rect x="1401" y="332" width="3" height="12" fill="#fff"/>
<rect x="1410" y="329" width="1" height="20" fill="#000"/>
<rect x="1408" y="330" width="5" height="19" fill="#000"/>
<rect x="1418" y="340" width="1" height="48" fill="#000"/>
<rect x="1416" y="348" width="5" height="30" fill="#000"/>
<rect x="1426" y="373" width="1" height="42" fill="#000"/>
<rect x="1424" y="376" width="5" height="31" fill="#000"/>
<rect x="1434" y="402" width="1" height="45" fill="#000"/>
<rect x="1432" y="405" width="5" height="21" fill="#000"/>
<rect x="1442" y="409" width="1" height="53" fill="#000"/>
<rect x="1440" y="425" width="5" height="14" fill="#000"/>
<rect x="1450" y="435" width="1" height="52" fill="#000"/>
<rect x="1448" y="438" width="5" height="47" fill="#000"/>
<rect x="1458" y="484" width="1" height="5" fill="#000"/>
<rect x="1456" y="484" width="5" height="3" fill="#000"/>
</g>
<g shape-rendering="crispEdges">
<rect x="2" y="659" width="1" height="24" fill="#c0c0c0"/>
<rect x="10" y="659" width="1" height="23" fill="#c0c0c0"/>
<rect x="18" y="659" width="1" height="22" fill="#c0c0c0"/>
<rect x="26" y="659" width="1" height="21" fill="#c0c0c0"/>
<rect x="34" y="659" width="1" height="20" fill="#c0c0c0"/>
<rect x="42" y="659" width="1" height="16" fill="#c0c0c0"/>
<rect x="50" y="659" width="1" height="8" fill="#c0c0c0"/>
<rect x="58" y="657" width="1" height="3" fill="#c0c0c0"/>
<rect x="66" y="647" width="1" height="13" fill="#c0c0c0"/>
<rect x="74" y="641" width="1" height="19" fill="#c0c0c0"/>
<rect x="82" y="638" width="1" height="22" fill="#c0c0c0"/>
<rect x="90" y="639" width="1" height="21" fill="#c0c0c0"/>
<rect x="98" y="636" width="1" height="24" fill="#c0c0c0"/>
<rect x="106" y="633" width="1" height="27" fill="#c0c0c0"/>
<rect x="114" y="632" width="1" height="28" fill="#c0c0c0"/>
<rect x="122" y="629" width="1" height="31" fill="#c0c0c0"/>
<rect x="130" y="632" width="1" height="28" fill="#c0c0c0"/>
<rect x="138" y="634" width="1" height="26" fill="#c0c0c0"/>
<rect x="146" y="639" width="1" height="21" fill="#c0c0c0"/>
<rect x="154" y="646" width="1" height="14" fill="#c0c0c0"/>
<rect x="162" y="653" width="1" height="7" fill="#c0c0c0"/>
<rect x="170" y="656" width="1" height="4" fill="#c0c0c0"/>
<rect x="178" y="657" width="1" height="3" fill="#c0c0c0"/>
<rect x="186" y="655" width="1" height="5" fill="#c0c0c0"/>
<rect x="194" y="654" width="1" height="6" fill="#c0c0c0"/>
<rect x="202" y="653" width="1" height="7" fill="#c0c0c0"/>
<rect x="210" y="653" width="1" height="7" fill="#c0c0c0"/>
<rect x="218" y="654" width="1" height="6" fill="#c0c0c0"/>
<rect x="226" y="659" width="1" height="1" fill="#c0c0c0"/>
<rect x="234" y="654" width="1" height="6" fill="#c0c0c0"/>
<rect x="242" y="654" width="1" height="6" fill="#c0c0c0"/>
<rect x="250" y="658" width="1" height="2" fill="#c0c0c0"/>
<rect x="258" y="659" width="1" height="1" fill="#c0c0c0"/>
<rect x="266" y="659" width="1" height="1" fill="#c0c0c0"/>
<rect x="274" y="659" width="1" height="5" fill="#c0c0c0"/>
<rect x="282" y="659" width="1" height="8" fill="#c0c0c0"/>
<rect x="290" y="659" width="1" height="13" fill="#c0c0c0"/>
<rect x="298" y="659" width="1" height="19" fill="#c0c0c0"/>
<rect x="306" y="659" width="1" height="24" fill="#c0c0c0"/>
<rect x="314" y="659" width="1" height="28" fill="#c0c0c0"/>
<rect x="322" y="659" width="1" height="34" fill="#c0c0c0"/>
<rect x="330" y="659" width="1" height="41" fill="#c0c0c0"/>
<rect x="338" y="659" width="1" height="48" fill="#c0c0c0"/>
<rect x="346" y="659" width="1" height="56" fill="#c0c0c0"/>
<rect x="354" y="659" width="1" height="61" fill="#c0c0c0"/>
<rect x="362" y="659" width="1" height="65" fill="#c0c0c0"/>
<rect x="370" y="659" width="1" height="70" fill="#c0c0c0"/>
<rect x="378" y="659" width="1" height="76" fill="#c0c0c0"/>
<rect x="386" y="659" width="1" height="80" fill="#c0c0c0"/>
<rect x="394" y="659" width="1" height="81" fill="#c0c0c0"/>
<rect x="402" y="659" width="1" height="80" fill="#c0c0c0"/>
<rect x="410" y="659" width="1" height="80" fill="#c0c0c0"/>
<rect x="418" y="659" width="1" height="81" fill="#c0c0c0"/>
<rect x="426" y="659" width="1" height="79" fill="#c0c0c0"/>
<rect x="434" y="659" width="1" height="68" fill="#c0c0c0"/>
<rect x="442" y="659" width="1" height="55" fill="#c0c0c0"/>
<rect x="450" y="659" width="1" height="45" fill="#c0c0c0"/>
<rect x="458" y="659" width="1" height="38" fill="#c0c0c0"/>
<rect x="466" y="659" width="1" height="28" fill="#c0c0c0"/>
<rect x="474" y="659" width="1" height="16" fill="#c0c0c0"/>
<rect x="482" y="659" width="1" height="10" fill="#c0c0c0"/>
<rect x="490" y="659" width="1" height="1" fill="#c0c0c0"/>
<rect x="498" y="655" width="1" height="5" fill="#c0c0c0"/>
<rect x="506" y="651" width="1" height="9" fill="#c0c0c0"/>
<rect x="514" y="650" width="1" height="10" fill="#c0c0c0"/>
<rect x="522" y="650" width="1" height="10" fill="#c0c0c0"/>
<rect x="530" y="649" width="1" height="11" fill="#c0c0c0"/>
<rect x="538" y="648" width="1" height="12" fill="#c0c0c0"/>
<rect x="546" y="647" width="1" height="13" fill="#c0c0c0"/>
<rect x="554" y="647" width="1" height="13" fill="#c0c0c0"/>
<rect x="562" y="646" width="1" height="14" fill="#c0c0c0"/>
<rect x="570" y="640" width="1" height="20" fill="#c0c0c0"/>
<rect x="578" y="634" width="1" height="26" fill="#c0c0c0"/>
<rect x="586" y="629" width="1" height="31" fill="#c0c0c0"/>
<rect x="594" y="625" width="1" height="35" fill="#c0c0c0"/>
<rect x="602" y="622" width="1" height="38" fill="#c0c0c0"/>
<rect x="610" y="624" width="1" height="36" fill="#c0c0c0"/>
<rect x="618" y="625" width="1" height="35" fill="#c0c0c0"/>
<rect x="626" y="617" width="1" height="43" fill="#c0c0c0"/>
<rect x="634" y="611" width="1" height="49" fill="#c0c0c0"/>
<rect x="642" y="607" width="1" height="53" fill="#c0c0c0"/>
<rect x="650" y="605" width="1" height="55" fill="#c0c0c0"/>
<rect x="658" y="605" width="1" height="55" fill="#c0c0c0"/>
<rect x="666" y="604" width="1" height="56" fill="#c0c0c0"/>
<rect x="674" y="604" width="1" height="56" fill="#c0c0c0"/>
<rect x="682" y="602" width="1" height="58" fill="#c0c0c0"/>
<rect x="690" y="601" width="1" height="59" fill="#c0c0c0"/>
<rect x="698" y="598" width="1" height="62" fill="#c0c0c0"/>
<rect x="706" y="596" width="1" height="64" fill="#c0c0c0"/>
<rect x="714" y="591" width="1" height="69" fill="#c0c0c0"/>
<rect x="722" y="588" width="1" height="72" fill="#c0c0c0"/>
<rect x="730" y="587" width="1" height="73" fill="#c0c0c0"/>
<rect x="738" y="587" width="1" height="73" fill="#c0c0c0"/>
<rect x="746" y="590" width="1" height="70" fill="#c0c0c0"/>
<rect x="754" y="592" width="1" height="68" fill="#c0c0c0"/>
<rect x="762" y="593" width="1" height="67" fill="#c0c0c0"/>
<rect x="770" y="601" width="1" height="59" fill="#c0c0c0"/>
<rect x="778" y="610" width="1" height="50" fill="#c0c0c0"/>
<rect x="786" y="618" width="1" height="42" fill="#c0c0c0"/>
<rect x="794" y="623" width="1" height="37" fill="#c0c0c0"/>
<rect x="802" y="626" width="1" height="34" fill="#c0c0c0"/>
<rect x="810" y="631" width="1" height="29" fill="#c0c0c0"/>
<rect x="818" y="637" width="1" height="23" fill="#c0c0c0"/>
<rect x="826" y="641" width="1" height="19" fill="#c0c0c0"/>
<rect x="834" y="644" width="1" height="16" fill="#c0c0c0"/>
<rect x="842" y="647" width="1" height="13" fill="#c0c0c0"/>
<rect x="850" y="646" width="1" height="14" fill="#c0c0c0"/>
<rect x="858" y="644" width="1" height="16" fill="#c0c0c0"/>
<rect x="866" y="646" width="1" height="14" fill="#c0c0c0"/>
<rect x="874" y="646" width="1" height="14" fill="#c0c0c0"/>
<rect x="882" y="646" width="1" height="14" fill="#c0c0c0"/>
<rect x="890" y="645" width="1" height="15" fill="#c0c0c0"/>
<rect x="898" y="644" width="1" height="16" fill="#c0c0c0"/>
<rect x="906" y="643" width="1" height="17" fill="#c0c0c0"/>
<rect x="914" y="645" width="1" height="15" fill="#c0c0c0"/>
<rect x="922" y="650" width="1" height="10" fill="#c0c0c0"/>
<rect x="930" y="653" width="1" height="7" fill="#c0c0c0"/>
<rect x="938" y="656" width="1" height="4" fill="#c0c0c0"/>
<rect x="946" y="654" width="1" height="6" fill="#c0c0c0"/>
<rect x="954" y="653" width="1" height="7" fill="#c0c0c0"/>
<rect x="962" y="652" width="1" height="8" fill="#c0c0c0"/>
<rect x="970" y="651" width="1" height="9" fill="#c0c0c0"/>
<rect x="978" y="650" width="1" height="10" fill="#c0c0c0"/>
<rect x="986" y="650" width="1" height="10" fill="#c0c0c0"/>
<rect x="994" y="652" width="1" height="8" fill="#c0c0c0"/>
<rect x="1002" y="651" width="1" height="9" fill="#c0c0c0"/>
<rect x="1010" y="658" width="1" height="2" fill="#c0c0c0"/>
<rect x="1018" y="659" width="1" height="1" fill="#c0c0c0"/>
<rect x="1026" y="659" width="1" height="8" fill="#c0c0c0"/>
<rect x="1034" y="659" width="1" height="11" fill="#c0c0c0"/>
<rect x="1042" y="659" width="1" height="14" fill="#c0c0c0"/>
<rect x="1050" y="659" width="1" height="14" fill="#c0c0c0"/>
<rect x="1058" y="659" width="1" height="18" fill="#c0c0c0"/>
<rect x="1066" y="659" width="1" height="21" fill="#c0c0c0"/>
<rect x="1074" y="659" width="1" height="23" fill="#c0c0c0"/>
<rect x="1082" y="659" width="1" height="24" fill="#c0c0c0"/>
<rect x="1090" y="659" width="1" height="24" fill="#c0c0c0"/>
<rect x="1098" y="659" width="1" height="23" fill="#c0c0c0"/>
<rect x="1106" y="659" width="1" height="24" fill="#c0c0c0"/>
<rect x="1114" y="659" width="1" height="26" fill="#c0c0c0"/>
<rect x="1122" y="659" width="1" height="27" fill="#c0c0c0"/>
<rect x="1130" y="659" width="1" height="28" fill="#c0c0c0"/>
<rect x="1138" y="659" width="1" height="30" fill="#c0c0c0"/>
<rect x="1146" y="659" width="1" height="29" fill="#c0c0c0"/>
<rect x="1154" y="659" width="1" height="25" fill="#c0c0c0"/>
<rect x="1162" y="659" width="1" height="20" fill="#c0c0c0"/>
<rect x="1170" y="659" width="1" height="17" fill="#c0c0c0"/>
<rect x="1178" y="659" width="1" height="13" fill="#c0c0c0"/>
<rect x="1186" y="659" width="1" height="9" fill="#c0c0c0"/>
<rect x="1194" y="659" width="1" height="10" fill="#c0c0c0"/>
<rect x="1202" y="659" width="1" height="12" fill="#c0c0c0"/>
<rect x="1210" y="659" width="1" height="17" fill="#c0c0c0"/>
<rect x="1218" y="659" width="1" height="20" fill="#c0c0c0"/>
<rect x="1226" y="659" width="1" height="22" fill="#c0c0c0"/>
<rect x="1234" y="659" width="1" height="24" fill="#c0c0c0"/>
<rect x="1242" y="659" width="1" height="24" fill="#c0c0c0"/>
<rect x="1250" y="659" width="1" height="18" fill="#c0c0c0"/>
<rect x="1258" y="659" width="1" height="13" fill="#c0c0c0"/>
<rect x="1266" y="659" width="1" height="10" fill="#c0c0c0"/>
<rect x="1274" y="659" width="1" height="8" fill="#c0c0c0"/>
<rect x="1282" y="659" width="1" height="6" fill="#c0c0c0"/>
<rect x="1290" y="659" width="1" height="3" fill="#c0c0c0"/>
<rect x="1298" y="659" width="1" height="3" fill="#c0c0c0"/>
<rect x="1306" y="659" width="1" height="4" fill="#c0c0c0"/>
<rect x="1314" y="659" width="1" height="5" fill="#c0c0c0"/>
<rect x="1322" y="659" width="1" height="9" fill="#c0c0c0"/>
<rect x="1330" y="659" width="1" height="12" fill="#c0c0c0"/>
<rect x="1338" y="659" width="1" height="16" fill="#c0c0c0"/>
<rect x="1346" y="659" width="1" height="26" fill="#c0c0c0"/>
<rect x="1354" y="659" width="1" height="33" fill="#c0c0c0"/>
<rect x="1362" y="659" width="1" height="38" fill="#c0c0c0"/>
<rect x="1370" y="659" width="1" height="40" fill="#c0c0c0"/>
<rect x="1378" y="659" width="1" height="42" fill="#c0c0c0"/>
<rect x="1386" y="659" width="1" height="41" fill="#c0c0c0"/>
<rect x="1394" y="659" width="1" height="42" fill="#c0c0c0"/>
<rect x="1402" y="659" width="1" height="40" fill="#c0c0c0"/>
<rect x="1410" y="659" width="1" height="41" fill="#c0c0c0"/>
<rect x="1418" y="659" width="1" height="44" fill="#c0c0c0"/>
<rect x="1426" y="659" width="1" height="47" fill="#c0c0c0"/>
<rect x="1434" y="659" width="1" height="51" fill="#c0c0c0"/>
<rect x="1442" y="659" width="1" height="55" fill="#c0c0c0"/>
<rect x="1450" y="659" width="1" height="62" fill="#c0c0c0"/>
<rect x="1458" y="659" width="1" height="67" fill="#c0c0c0"/>
</g>
<polyline points="0.5,673.7 19.1,676.9 32.1,678.7 43.3,679.6 54.4,677.8 65.6,672.2 74.9,667.5 86.0,661.0 97.2,654.5 108.4,646.2 121.4,639.7 130.7,635.9 141.8,635.0 151.1,635.4 162.3,636.9 171.6,640.2 186.5,643.9 195.8,648.4 208.8,651.4 223.7,655.1 251.5,655.1 270.2,657.0 290.6,661.0 301.7,663.8 314.7,669.4 327.7,676.9 340.7,684.3 355.6,695.5 368.6,704.8 383.5,715.9 398.4,725.2 411.4,731.3 424.4,735.4 439.3,735.1 454.2,728.0 469.0,718.7 483.9,703.8 496.9,688.9 510.0,675.0 524.8,662.0 539.7,655.5 554.6,650.8 569.5,647.7 580.6,645.2 597.1,638.7 615.7,632.8 634.3,624.2 652.9,616.8 671.5,611.8 690.1,606.2 708.7,601.9 727.3,597.5 742.2,594.1 757.0,591.9 766.3,590.9 779.4,593.2 794.2,599.7 809.1,608.0 824.0,619.2 838.9,628.5 853.8,635.9 864.9,639.1 876.0,641.0 890.7,644.7 922.3,644.9 937.2,646.5 955.8,649.0 970.6,650.8 987.4,651.8 1011.6,651.8 1026.4,653.6 1041.3,658.8 1052.5,662.0 1067.4,668.1 1082.2,674.1 1097.1,677.8 1115.7,681.1 1138.0,684.9 1166.5,684.9 1173.5,683.5 1194.5,678.0 1218.5,674.6 1242.5,675.6 1266.5,676.6 1282.5,674.6 1300.5,670.0 1318.5,666.0 1330.5,666.6 1346.5,668.6 1362.5,674.6 1378.5,683.2 1394.5,692.6 1410.5,697.6 1426.5,701.2 1442.5,703.2 1458.5,708.6" fill="none" stroke="#ff0000" stroke-width="1" stroke-dasharray="3,2" shape-rendering="crispEdges"/>
<g shape-rendering="crispEdges">
<line x1="0" y1="785.5" x2="1652" y2="785.5" stroke="#c0c0c0" stroke-width="1" stroke-dasharray="3,3"/>
<line x1="0" y1="836.5" x2="1652" y2="836.5" stroke="#c0c0c0" stroke-width="1" stroke-dasharray="3,3"/>
<line x1="0" y1="897.5" x2="1652" y2="897.5" stroke="#c0c0c0" stroke-width="1" stroke-dasharray="3,3"/>
</g>
<polyline points="-5.5,859.7 2.5,855.5 10.5,845.6 18.5,844.3 26.5,848.4 34.5,849.4 42.5,829.8 50.5,822.0 58.5,808.4 66.5,806.6 74.5,812.7 82.5,817.2 90.5,829.8 98.5,818.3 106.5,819.2 114.5,818.3 122.5,815.3 130.5,829.8 138.5,834.5 146.5,836.3 154.5,848.1 162.5,850.3 170.5,844.7 178.5,838.2 186.5,829.5 194.5,832.1 202.5,830.2 210.5,831.3 218.5,840.1 226.5,845.6 234.5,826.5 242.5,835.4 250.5,843.2 258.5,841.4 266.5,837.3 274.5,847.5 282.5,846.2 290.5,854.9 298.5,859.2 306.5,860.0 314.5,861.8 322.5,870.7 330.5,872.6 338.5,878.2 346.5,881.9 354.5,881.5 362.5,880.4 370.5,886.0 378.5,887.9 386.5,890.3 394.5,880.4 402.5,877.3 410.5,880.4 418.5,882.3 426.5,875.4 434.5,840.1 442.5,832.6 450.5,833.9 458.5,835.4 466.5,825.7 474.5,816.4 482.5,825.7 490.5,820.9 498.5,819.6 506.5,823.3 514.5,830.8 522.5,833.2 530.5,828.9 538.5,827.6 546.5,826.5 554.5,830.2 562.5,827.0 570.5,814.6 578.5,805.3 586.5,808.4 594.5,807.1 602.5,807.1 610.5,824.3 618.5,822.4 626.5,801.6 634.5,801.6 642.5,802.5 650.5,806.6 658.5,807.5 666.5,805.7 674.5,804.7 682.5,798.6 690.5,799.7 698.5,794.1 706.5,792.3 714.5,787.4 722.5,787.4 730.5,788.0 738.5,788.5 746.5,804.2 754.5,797.3 762.5,803.8 770.5,827.0 778.5,836.3 786.5,834.5 794.5,833.5 802.5,825.2 810.5,834.5 818.5,840.1 826.5,837.6 834.5,837.6 842.5,836.3 850.5,828.0 858.5,819.6 866.5,833.5 874.5,827.6 882.5,829.5 890.5,825.2 898.5,818.3 906.5,826.1 914.5,833.9 922.5,845.1 930.5,844.3 938.5,843.2 946.5,827.6 954.5,827.6 962.5,826.1 970.5,824.3 978.5,827.0 986.5,830.2 994.5,831.3 1002.5,833.2 1010.5,857.4 1018.5,855.5 1026.5,858.7 1034.5,857.4 1042.5,858.7 1050.5,851.2 1058.5,862.4 1066.5,864.2 1074.5,864.2 1082.5,862.9 1090.5,859.2 1098.5,851.2 1106.5,863.3 1114.5,864.2 1122.5,864.2 1130.5,867.0 1138.5,872.2 1146.5,860.5 1154.5,835.6 1162.5,832.4 1170.5,835.0 1178.5,830.5 1186.5,828.6 1194.5,845.6 1202.5,854.4 1210.5,864.4 1218.5,861.0 1226.5,859.5 1234.5,861.4 1242.5,855.0 1250.5,832.8 1258.5,826.7 1266.5,829.4 1274.5,835.6 1282.5,834.3 1290.5,828.6 1298.5,838.8 1306.5,843.1 1314.5,842.6 1322.5,854.4 1330.5,860.6 1338.5,864.4 1346.5,879.5 1354.5,878.3 1362.5,877.6 1370.5,868.2 1378.5,871.9 1386.5,854.4 1394.5,860.6 1402.5,856.3 1410.5,861.5 1418.5,867.5 1426.5,874.0 1434.5,876.5 1442.5,879.0 1450.5,883.0 1458.5,886.3" fill="none" stroke="#1e90ff" stroke-width="1" shape-rendering="crispEdges"/>
<g shape-rendering="crispEdges">
<rect x="1653" y="579" width="2" height="1" fill="#000"/>
<rect x="1653" y="659" width="2" height="1" fill="#000"/>
<rect x="1653" y="746" width="2" height="1" fill="#000"/>
<rect x="1653" y="751" width="2" height="1" fill="#000"/>
<rect x="1653" y="785" width="2" height="1" fill="#000"/>
<rect x="1653" y="836" width="2" height="1" fill="#000"/>
<rect x="1653" y="897" width="2" height="1" fill="#000"/>
<rect x="1653" y="922" width="2" height="1" fill="#000"/>
</g>
<text x="1656" y="587.5" font-size="10" fill="#000" text-anchor="start" font-weight="normal" textLength="37.5" lengthAdjust="spacingAndGlyphs" >0.005455</text>
<text x="1656" y="663" font-size="10" fill="#000" text-anchor="start" font-weight="normal" textLength="17" lengthAdjust="spacingAndGlyphs" >0.00</text>
<text x="1656" y="744.2" font-size="10" fill="#000" text-anchor="start" font-weight="normal" textLength="40.5" lengthAdjust="spacingAndGlyphs" >-0.005938</text>
<text x="1656.5" y="760" font-size="10" fill="#000" text-anchor="start" font-weight="normal" textLength="14" lengthAdjust="spacingAndGlyphs" >100</text>
<text x="1655.5" y="789" font-size="10" fill="#000" text-anchor="start" font-weight="normal" textLength="9.5" lengthAdjust="spacingAndGlyphs" >80</text>
<text x="1655.5" y="840.5" font-size="10" fill="#000" text-anchor="start" font-weight="normal" textLength="9.5" lengthAdjust="spacingAndGlyphs" >50</text>
<text x="1655.5" y="901.5" font-size="10" fill="#000" text-anchor="start" font-weight="normal" textLength="9.5" lengthAdjust="spacingAndGlyphs" >15</text>
<text x="1655.5" y="920" font-size="10" fill="#000" text-anchor="start" font-weight="normal" textLength="5" lengthAdjust="spacingAndGlyphs" >0</text>
<g shape-rendering="crispEdges">
<rect x="58" y="924" width="1" height="3" fill="#000"/>
<rect x="122" y="924" width="1" height="3" fill="#000"/>
<rect x="186" y="924" width="1" height="3" fill="#000"/>
<rect x="250" y="924" width="1" height="3" fill="#000"/>
<rect x="314" y="924" width="1" height="3" fill="#000"/>
<rect x="378" y="924" width="1" height="3" fill="#000"/>
<rect x="442" y="924" width="1" height="3" fill="#000"/>
<rect x="506" y="924" width="1" height="3" fill="#000"/>
<rect x="570" y="924" width="1" height="3" fill="#000"/>
<rect x="634" y="924" width="1" height="3" fill="#000"/>
<rect x="698" y="924" width="1" height="3" fill="#000"/>
<rect x="762" y="924" width="1" height="3" fill="#000"/>
<rect x="826" y="924" width="1" height="3" fill="#000"/>
<rect x="890" y="924" width="1" height="3" fill="#000"/>
<rect x="954" y="924" width="1" height="3" fill="#000"/>
<rect x="1018" y="924" width="1" height="3" fill="#000"/>
<rect x="1082" y="924" width="1" height="3" fill="#000"/>
<rect x="1146" y="924" width="1" height="3" fill="#000"/>
<rect x="1210" y="924" width="1" height="3" fill="#000"/>
<rect x="1274" y="924" width="1" height="3" fill="#000"/>
<rect x="1338" y="924" width="1" height="3" fill="#000"/>
<rect x="1402" y="924" width="1" height="3" fill="#000"/>
</g>
<text x="57" y="936" font-size="10" fill="#000" text-anchor="start" font-weight="normal" textLength="45" lengthAdjust="spacingAndGlyphs" >9 Jul 16:00</text>
<text x="121" y="936" font-size="10" fill="#000" text-anchor="start" font-weight="normal" textLength="49.5" lengthAdjust="spacingAndGlyphs" >13 Jul 00:00</text>
<text x="185" y="936" font-size="10" fill="#000" text-anchor="start" font-weight="normal" textLength="49.5" lengthAdjust="spacingAndGlyphs" >14 Jul 08:00</text>
<text x="249" y="936" font-size="10" fill="#000" text-anchor="start" font-weight="normal" textLength="49.5" lengthAdjust="spacingAndGlyphs" >15 Jul 16:00</text>
<text x="313" y="936" font-size="10" fill="#000" text-anchor="start" font-weight="normal" textLength="49.5" lengthAdjust="spacingAndGlyphs" >19 Jul 00:00</text>
<text x="377" y="936" font-size="10" fill="#000" text-anchor="start" font-weight="normal" textLength="49.5" lengthAdjust="spacingAndGlyphs" >20 Jul 08:00</text>
<text x="441" y="936" font-size="10" fill="#000" text-anchor="start" font-weight="normal" textLength="49.5" lengthAdjust="spacingAndGlyphs" >21 Jul 16:00</text>
<text x="505" y="936" font-size="10" fill="#000" text-anchor="start" font-weight="normal" textLength="49.5" lengthAdjust="spacingAndGlyphs" >23 Jul 00:00</text>
<text x="569" y="936" font-size="10" fill="#000" text-anchor="start" font-weight="normal" textLength="49.5" lengthAdjust="spacingAndGlyphs" >26 Jul 08:00</text>
<text x="633" y="936" font-size="10" fill="#000" text-anchor="start" font-weight="normal" textLength="49.5" lengthAdjust="spacingAndGlyphs" >27 Jul 16:00</text>
<text x="697" y="936" font-size="10" fill="#000" text-anchor="start" font-weight="normal" textLength="49.5" lengthAdjust="spacingAndGlyphs" >29 Jul 00:00</text>
<text x="761" y="936" font-size="10" fill="#000" text-anchor="start" font-weight="normal" textLength="49.5" lengthAdjust="spacingAndGlyphs" >30 Jul 08:00</text>
<text x="825" y="936" font-size="10" fill="#000" text-anchor="start" font-weight="normal" textLength="45" lengthAdjust="spacingAndGlyphs" >2 Aug 16:00</text>
<text x="889" y="936" font-size="10" fill="#000" text-anchor="start" font-weight="normal" textLength="45" lengthAdjust="spacingAndGlyphs" >4 Aug 00:00</text>
<text x="953" y="936" font-size="10" fill="#000" text-anchor="start" font-weight="normal" textLength="45" lengthAdjust="spacingAndGlyphs" >5 Aug 08:00</text>
<text x="1017" y="936" font-size="10" fill="#000" text-anchor="start" font-weight="normal" textLength="45" lengthAdjust="spacingAndGlyphs" >6 Aug 16:00</text>
<text x="1081" y="936" font-size="10" fill="#000" text-anchor="start" font-weight="normal" textLength="49.5" lengthAdjust="spacingAndGlyphs" >10 Aug 00:00</text>
<text x="1145" y="936" font-size="10" fill="#000" text-anchor="start" font-weight="normal" textLength="49.5" lengthAdjust="spacingAndGlyphs" >11 Aug 08:00</text>
<text x="1209" y="936" font-size="10" fill="#000" text-anchor="start" font-weight="normal" textLength="49.5" lengthAdjust="spacingAndGlyphs" >12 Aug 16:00</text>
<text x="1273" y="936" font-size="10" fill="#000" text-anchor="start" font-weight="normal" textLength="49.5" lengthAdjust="spacingAndGlyphs" >16 Aug 00:00</text>
<text x="1337" y="936" font-size="10" fill="#000" text-anchor="start" font-weight="normal" textLength="49.5" lengthAdjust="spacingAndGlyphs" >17 Aug 08:00</text>
<text x="1401" y="936" font-size="10" fill="#000" text-anchor="start" font-weight="normal" textLength="49.5" lengthAdjust="spacingAndGlyphs" >18 Aug 16:00</text>
<text x="-6" y="936" font-size="10" fill="#000" text-anchor="start" font-weight="normal" textLength="41" lengthAdjust="spacingAndGlyphs" >8 Jul 2021</text>
<text x="9" y="34.5" font-size="10" fill="#000" text-anchor="start" font-weight="normal" textLength="57" lengthAdjust="spacingAndGlyphs" >GBPUSD-,H4</text>
<text x="72.5" y="34.5" font-size="10" fill="#000" text-anchor="start" font-weight="normal" textLength="32.3" lengthAdjust="spacingAndGlyphs" >1.36335</text>
<text x="108.3" y="34.5" font-size="10" fill="#000" text-anchor="start" font-weight="normal" textLength="32.3" lengthAdjust="spacingAndGlyphs" >1.36382</text>
<text x="144.4" y="34.5" font-size="10" fill="#000" text-anchor="start" font-weight="normal" textLength="32.3" lengthAdjust="spacingAndGlyphs" >1.36297</text>
<text x="180.6" y="34.5" font-size="10" fill="#000" text-anchor="start" font-weight="normal" textLength="32.3" lengthAdjust="spacingAndGlyphs" >1.36323</text>
<path d="M0,28.5 L4,33 L0,33 Z" fill="#000"/>
<text x="-0.5" y="591" font-size="10" fill="#000" text-anchor="start" font-weight="normal" textLength="152" lengthAdjust="spacingAndGlyphs" >MACD(12,26,9) -0.004566 -0.003361</text>
<text x="-1" y="762.5" font-size="10" fill="#000" text-anchor="start" font-weight="normal" textLength="67" lengthAdjust="spacingAndGlyphs" >RSI(14) 20.9486</text>
<rect x="1395" y="461" width="111" height="11" fill="#00e600"/>
<rect x="1531.5" y="471.5" width="110" height="24" fill="none" stroke="#404040" stroke-width="1" shape-rendering="crispEdges"/>
<g transform="translate(1533.00,473) scale(1.750,1.800)"><path d="M5.1,0.15 L0.3,3.6 M4.1,1.7 L9,1.5 L0,5.6 M3.5,1.9 L5.3,4.7 M5.1,4.4 L0.6,7.8 M4.9,6.3 L9.5,6.05 L0,10.15 M3.8,6.8 L5.3,9.2" fill="none" stroke="#00f000" stroke-width="1.2" vector-effect="non-scaling-stroke" stroke-linecap="square" stroke-linejoin="miter"/></g>
<g transform="translate(1555.00,473) scale(1.750,1.800)"><path d="M3.8,0.15 L4.9,1.3 M0.35,3.1 L0.8,1.7 L9.75,1.7 L8.7,2.95 M3.55,2.8 L0.05,5.45 M5.95,2.9 L9,4.55 M1.4,5.65 L8.4,5.65 M4.75,5.65 L4.75,9.6 M-0.3,9.6 L9.9,9.6" fill="none" stroke="#00f000" stroke-width="1.2" vector-effect="non-scaling-stroke" stroke-linecap="square" stroke-linejoin="miter"/></g>
<g transform="translate(1577.00,473) scale(1.750,1.800)"><path d="M-0.5,1.8 L3.9,1.8 M1.9,0.15 L0.07,4.7 L3.25,4.7 M2.2,3.25 L2.2,10.3 M-0.5,7.95 L4.45,6.65 M4.6,2.35 L9.5,1.85 M3.45,4.55 L10.1,4.1 M7.05,0.15 L5.1,6.35 L9.2,6.3 L7.4,7.95 M4.8,7.85 L8.3,10.05" fill="none" stroke="#00f000" stroke-width="1.2" vector-effect="non-scaling-stroke" stroke-linecap="square" stroke-linejoin="miter"/></g>
<g transform="translate(1599.00,473) scale(1.750,1.800)"><path d="M-0.5,2.95 L3.75,2.35 M2.05,0.15 L2.05,9.9 L0.1,9.6 M-0.35,5.9 L3.75,4.4 M9.65,0.45 L4.8,1.15 M4.8,1.15 L4.8,5.6 L2.7,10.15 M5.25,4 L10.25,4 M8,4 L8,10.3" fill="none" stroke="#00f000" stroke-width="1.2" vector-effect="non-scaling-stroke" stroke-linecap="square" stroke-linejoin="miter"/></g>
<g transform="translate(1621.00,473) scale(1.750,1.800)"><path d="M4.75,0.15 L4.75,3.85 M4.75,1.8 L9.5,1.8 M1.9,4 L8.1,4 L8.1,6.8 L1.9,6.8 Z M1.9,6.8 L1.9,7.1 L0.2,10.05 M3.1,8.4 L4.2,9.6 M5.65,8.4 L6.55,9.6 M8.4,8.3 L9.5,9.7" fill="none" stroke="#00f000" stroke-width="1.2" vector-effect="non-scaling-stroke" stroke-linecap="square" stroke-linejoin="miter"/></g>
<line x1="1389" y1="301" x2="1478.4" y2="528.3" stroke="#ff0000" stroke-width="3.5"/>
<path d="M1481,535 L1481.3,523.0 L1472.6,526.4 Z" fill="#ff0000" stroke="#ff0000" stroke-width="1.5" stroke-linejoin="miter"/>
<line x1="1319" y1="665" x2="1489.0" y2="731.5" stroke="#ff0000" stroke-width="3.2"/>
<path d="M1496.5,734.5 L1487.2,724.7 L1483.0,735.4 Z" fill="#ff0000" stroke="#ff0000" stroke-width="1.5" stroke-linejoin="miter"/>
<line x1="1382.5" y1="857.5" x2="1451.0" y2="884.5" stroke="#ff0000" stroke-width="3.5"/>
<path d="M1458.5,887.5 L1449.2,877.7 L1445.0,888.3 Z" fill="#ff0000" stroke="#ff0000" stroke-width="1.5" stroke-linejoin="miter"/>
<g shape-rendering="crispEdges">
<rect x="1647.5" y="421.5" width="4" height="4" fill="#fff" stroke="#ff0000" stroke-width="1"/>
<rect x="1647.5" y="445.5" width="4" height="4" fill="#fff" stroke="#ff4500" stroke-width="1"/>
<rect x="1647.5" y="464.5" width="4" height="4" fill="#fff" stroke="#00e000" stroke-width="1"/>
<rect x="1647.5" y="507.5" width="4" height="4" fill="#fff" stroke="#0000ff" stroke-width="1"/>
<rect x="1647.5" y="528.5" width="4" height="4" fill="#fff" stroke="#0000ff" stroke-width="1"/>
<rect x="1654" y="417" width="41" height="11" fill="#ff0000"/>
<rect x="1654" y="441" width="41" height="11" fill="#ff4500"/>
<rect x="1654" y="460" width="41" height="11" fill="#32cd32"/>
<rect x="1654" y="480" width="41" height="11" fill="#000000"/>
<rect x="1654" y="503" width="41" height="11" fill="#0000ff"/>
<rect x="1654" y="524" width="41" height="11" fill="#0000ff"/>
</g>
<text x="1658.5" y="426" font-size="10" fill="#fff" text-anchor="start" font-weight="normal" textLength="32.5" lengthAdjust="spacingAndGlyphs" >1.36820</text>
<text x="1658.5" y="450" font-size="10" fill="#fff" text-anchor="start" font-weight="normal" textLength="32.5" lengthAdjust="spacingAndGlyphs" >1.36627</text>
<text x="1658.5" y="469" font-size="10" fill="#fff" text-anchor="start" font-weight="normal" textLength="32.5" lengthAdjust="spacingAndGlyphs" >1.36475</text>
<text x="1658.5" y="489" font-size="10" fill="#fff" text-anchor="start" font-weight="normal" textLength="32.5" lengthAdjust="spacingAndGlyphs" >1.36323</text>
<text x="1658.5" y="512" font-size="10" fill="#fff" text-anchor="start" font-weight="normal" textLength="32.5" lengthAdjust="spacingAndGlyphs" >1.36130</text>
<text x="1658.5" y="533" font-size="10" fill="#fff" text-anchor="start" font-weight="normal" textLength="32.5" lengthAdjust="spacingAndGlyphs" >1.35961</text>
<rect x="1698" y="20" width="1" height="921" fill="#f0f0f0"/>
<defs>
<linearGradient id="gbtn" x1="0" y1="0" x2="0" y2="1"><stop offset="0" stop-color="#5c5cff"/><stop offset="1" stop-color="#3030f0"/></linearGradient>
<linearGradient id="gprice" x1="0" y1="0" x2="0" y2="1"><stop offset="0" stop-color="#2c2ce8"/><stop offset="1" stop-color="#0000a8"/></linearGradient>
<linearGradient id="glot" x1="0" y1="0" x2="0" y2="1"><stop offset="0" stop-color="#f4f4f4"/><stop offset="0.5" stop-color="#e6e6e6"/><stop offset="0.5" stop-color="#dadada"/><stop offset="1" stop-color="#d0d0d0"/></linearGradient>
<linearGradient id="gtb" x1="0" y1="0" x2="0" y2="1"><stop offset="0" stop-color="#f0f0f0"/><stop offset="1" stop-color="#f0f0f0"/></linearGradient>
</defs>
<g shape-rendering="crispEdges">
<rect x="0" y="66" width="106" height="33" fill="url(#gprice)"/>
<rect x="108" y="66" width="108" height="33" fill="url(#gprice)"/>
<rect x="0" y="42" width="49" height="25" fill="#1a1ad8"/>
<rect x="0" y="43" width="48" height="23" fill="url(#gbtn)"/>
<rect x="164" y="42" width="52" height="25" fill="#1a1ad8"/>
<rect x="165" y="43" width="51" height="23" fill="url(#gbtn)"/>
<rect x="1" y="66" width="44" height="1" fill="#8c8cff"/>
<rect x="168" y="66" width="44" height="1" fill="#8c8cff"/>
<rect x="49" y="42" width="115" height="24" fill="#ffffff"/>
<rect x="51" y="42" width="111" height="22" fill="#a8a8a8"/>
<rect x="52" y="43" width="109" height="20" fill="#ffffff"/>
<rect x="52" y="43" width="20" height="20" fill="#a8a8a8"/>
<rect x="53" y="44" width="18" height="18" fill="url(#glot)"/>
<rect x="140" y="43" width="21" height="20" fill="#a8a8a8"/>
<rect x="141" y="44" width="19" height="18" fill="url(#glot)"/>
</g>
<path d="M59,51 L64,51 L61.5,54 Z" fill="#5060b0"/>
<path d="M148,54 L153,54 L150.5,51 Z" fill="#5060b0"/>
<text x="9.5" y="58" font-size="11" fill="#fff" text-anchor="start" font-weight="normal" textLength="25.5" lengthAdjust="spacingAndGlyphs" >SELL</text>
<text x="177" y="58" font-size="11" fill="#fff" text-anchor="start" font-weight="normal" textLength="23.5" lengthAdjust="spacingAndGlyphs" >BUY</text>
<text x="112.8" y="57.2" font-size="12.5" fill="#000" text-anchor="start" font-weight="normal" textLength="23.8" lengthAdjust="spacingAndGlyphs" >1.00</text>
<text x="17.5" y="94" font-size="11.5" fill="#fff" text-anchor="start" font-weight="bold" textLength="23.5" lengthAdjust="spacingAndGlyphs" >1.36</text>
<text x="45.5" y="94" font-size="34" fill="#fff" text-anchor="start" font-weight="normal" textLength="32.5" lengthAdjust="spacingAndGlyphs" >32</text>
<text x="84.5" y="78.5" font-size="11.5" fill="#fff" text-anchor="start" font-weight="bold" textLength="6" lengthAdjust="spacingAndGlyphs" >3</text>
<text x="127.5" y="94" font-size="11.5" fill="#fff" text-anchor="start" font-weight="bold" textLength="23.5" lengthAdjust="spacingAndGlyphs" >1.36</text>
<text x="156.5" y="94" font-size="34" fill="#fff" text-anchor="start" font-weight="normal" textLength="33" lengthAdjust="spacingAndGlyphs" >33</text>
<text x="195" y="78.5" font-size="11.5" fill="#fff" text-anchor="start" font-weight="bold" textLength="7" lengthAdjust="spacingAndGlyphs" >9</text>
<rect x="0" y="0" width="1699" height="18" fill="#f0f0f0"/>
<rect x="0" y="18" width="1699" height="1" fill="#a0a0a0"/>
<rect x="0" y="19" width="1699" height="1" fill="#6e6e6e"/>
<g shape-rendering="crispEdges">
<rect x="288" y="0" width="24" height="16" fill="#f8f8f8"/>
<rect x="440" y="0" width="23" height="16" fill="#f8f8f8"/>
<rect x="467" y="0" width="25" height="16" fill="#f8f8f8"/>
<rect x="628" y="0" width="23" height="16" fill="#f8f8f8"/>
<rect x="1074" y="0" width="24" height="16" fill="#f8f8f8"/>
<rect x="13" y="0" width="1" height="16" fill="#a0a0a0"/>
<rect x="249" y="0" width="1" height="16" fill="#a0a0a0"/>
<rect x="287" y="0" width="1" height="16" fill="#a0a0a0"/>
<rect x="344" y="0" width="1" height="16" fill="#a0a0a0"/>
<rect x="434" y="0" width="1" height="16" fill="#a0a0a0"/>
<rect x="439" y="0" width="1" height="16" fill="#a0a0a0"/>
<rect x="496" y="0" width="1" height="16" fill="#a0a0a0"/>
<rect x="617" y="0" width="1" height="16" fill="#a0a0a0"/>
<rect x="684" y="0" width="1" height="16" fill="#a0a0a0"/>
<rect x="923" y="0" width="1" height="16" fill="#a0a0a0"/>
<rect x="1073" y="0" width="1" height="16" fill="#a0a0a0"/>
<rect x="1184" y="0" width="1" height="16" fill="#a0a0a0"/>
<rect x="253" y="1" width="3" height="1" fill="#b4b4b4"/>
<rect x="253" y="3" width="3" height="1" fill="#b4b4b4"/>
<rect x="253" y="5" width="3" height="1" fill="#b4b4b4"/>
<rect x="253" y="7" width="3" height="1" fill="#b4b4b4"/>
<rect x="253" y="9" width="3" height="1" fill="#b4b4b4"/>
<rect x="253" y="11" width="3" height="1" fill="#b4b4b4"/>
<rect x="253" y="13" width="3" height="1" fill="#b4b4b4"/>
<rect x="253" y="15" width="3" height="1" fill="#b4b4b4"/>
<rect x="621" y="1" width="3" height="1" fill="#b4b4b4"/>
<rect x="621" y="3" width="3" height="1" fill="#b4b4b4"/>
<rect x="621" y="5" width="3" height="1" fill="#b4b4b4"/>
<rect x="621" y="7" width="3" height="1" fill="#b4b4b4"/>
<rect x="621" y="9" width="3" height="1" fill="#b4b4b4"/>
<rect x="621" y="11" width="3" height="1" fill="#b4b4b4"/>
<rect x="621" y="13" width="3" height="1" fill="#b4b4b4"/>
<rect x="621" y="15" width="3" height="1" fill="#b4b4b4"/>
<rect x="927" y="1" width="3" height="1" fill="#b4b4b4"/>
<rect x="927" y="3" width="3" height="1" fill="#b4b4b4"/>
<rect x="927" y="5" width="3" height="1" fill="#b4b4b4"/>
<rect x="927" y="7" width="3" height="1" fill="#b4b4b4"/>
<rect x="927" y="9" width="3" height="1" fill="#b4b4b4"/>
<rect x="927" y="11" width="3" height="1" fill="#b4b4b4"/>
<rect x="927" y="13" width="3" height="1" fill="#b4b4b4"/>
<rect x="927" y="15" width="3" height="1" fill="#b4b4b4"/>
</g>
<circle cx="0.5" cy="6" r="2.5" fill="none" stroke="#4a90d0" stroke-width="1.5"/>
<line x1="1.5" y1="10" x2="5" y2="14.5" stroke="#c8a030" stroke-width="2"/>
<path d="M11,6.5 L12.2,5.3 L13.4,6.5 L12.2,7.7 Z" fill="none" stroke="#202020" stroke-width="0.8"/>
<path d="M23.5,-2 L33.5,-2 L35.5,1 L35.5,11.5 L23.5,11.5 Z" fill="#fff" stroke="#808080" stroke-width="1"/>
<path d="M25,3 H32 M25,6 H30 M25,9 H29" stroke="#909090" stroke-width="0.8"/>
<path d="M32.5,4.5 V15.5 M27.5,10 H38.5" stroke="#10c010" stroke-width="3.2"/>
<g transform="translate(42.50,-0.5) scale(1.100,1.100)"><path d="M2,0 L2.3,1 M0.3,1.5 L4.3,1.5 M1,2.2 L1.5,3.5 M3.5,2.2 L3,3.5 M0,4 L4.5,4 M0.3,5.6 L4.3,5.6 M2.3,4 L2.3,10 M2.2,6 L0,8.6 M2.6,6.6 L4.3,8 M9.6,0.4 L5.9,1.8 M5.9,1.8 L5.9,6 L5,9.6 M5.9,4.5 L10,4.5 M8.3,4.5 L8.3,10" fill="none" stroke="#000" stroke-width="1.1" vector-effect="non-scaling-stroke" stroke-linecap="square" stroke-linejoin="miter"/></g>
<g transform="translate(54.50,-0.5) scale(1.100,1.100)"><path d="M1,0.8 L2,2 M0.3,4 L2,4 L2,8.8 L3,7.8 M3.8,1.5 L10,1.5 M7.3,1.5 L7.3,9.6 L6.2,8.8" fill="none" stroke="#000" stroke-width="1.1" vector-effect="non-scaling-stroke" stroke-linecap="square" stroke-linejoin="miter"/></g>
<g transform="translate(66.50,-0.5) scale(1.100,1.100)"><path d="M3,0.2 L4,1.8 M7,0.2 L6,1.8 M1.5,2.5 L8.5,2.5 L8.5,6.5 L1.5,6.5 Z M1.5,4.5 L8.5,4.5 M5,2.5 L5,10 M0,8.2 L10,8.2" fill="none" stroke="#000" stroke-width="1.1" vector-effect="non-scaling-stroke" stroke-linecap="square" stroke-linejoin="miter"/></g>
<path d="M90.5,7 L97,-1 L106,5.5 L99,14 Z" fill="#d8b030" stroke="#8a6a10" stroke-width="1"/>
<path d="M92,8 L98,1 L104,5.5" fill="none" stroke="#f8e080" stroke-width="1.2"/>
<rect x="120" y="-2" width="10" height="9" fill="#3a90e0" stroke="#2060b0" stroke-width="0.8"/>
<path d="M122,2 H128 M122,4.5 H127" stroke="#fff" stroke-width="0.9"/>
<g fill="#e6ecf6" stroke="#6a88b8" stroke-width="1"><circle cx="122" cy="11" r="3"/><circle cx="126.5" cy="9" r="4"/><circle cx="131" cy="11" r="3"/><rect x="122" y="10" width="9" height="4" stroke="none"/></g><path d="M119.5,14 H133.5" stroke="#6a88b8" stroke-width="1"/>
<circle cx="154" cy="6" r="7" fill="none" stroke="#80a0e0" stroke-width="1"/>
<circle cx="154" cy="6" r="4.5" fill="none" stroke="#5080d0" stroke-width="1"/>
<path d="M160,3 A7,7 0 0 1 155,13" fill="none" stroke="#60b060" stroke-width="1.5"/>
<circle cx="153.5" cy="6" r="1.6" fill="#2050c0"/>
<line x1="154" y1="6" x2="154" y2="14" stroke="#20a020" stroke-width="1.3"/>
<path d="M173.5,4 L188,4 L182,13.5 Z" fill="#f0d040" stroke="#a08020" stroke-width="0.8"/>
<ellipse cx="181" cy="2" rx="7.5" ry="3" fill="#50a8e0" stroke="#3080c0" stroke-width="0.8"/>
<circle cx="185.5" cy="10" r="4.2" fill="#d83020"/>
<rect x="184" y="8.5" width="3" height="3" fill="#fff"/>
<g transform="translate(195.50,-0.5) scale(1.100,1.100)"><path d="M4.8,0 L4,1.3 M1.5,1.6 L8.5,1.6 L8.5,10 L1.5,10 Z M1.5,4.3 L8.5,4.3 M1.5,7.1 L8.5,7.1" fill="none" stroke="#000" stroke-width="1.1" vector-effect="non-scaling-stroke" stroke-linecap="square" stroke-linejoin="miter"/></g>
<g transform="translate(207.30,-0.5) scale(1.100,1.100)"><path d="M0.5,1.5 L4,1.5 M0,4 L4.5,4 M2,4 L0.5,8 L4,7.5 M3.3,6.5 L4.5,8.5 M5,3 L9.5,3 L9.3,9.6 L8.3,9 M7.3,0.3 L7,6 L5,9.6" fill="none" stroke="#000" stroke-width="1.1" vector-effect="non-scaling-stroke" stroke-linecap="square" stroke-linejoin="miter"/></g>
<g transform="translate(219.10,-0.5) scale(1.100,1.100)"><path d="M5,0 L5.3,1.2 M0.5,2.1 L9.5,2.1 M3.5,3 L1.5,5 M6.5,3 L8.5,5 M3,5 L8.8,10 M7,5 L1,10" fill="none" stroke="#000" stroke-width="1.1" vector-effect="non-scaling-stroke" stroke-linecap="square" stroke-linejoin="miter"/></g>
<g transform="translate(230.90,-0.5) scale(1.100,1.100)"><path d="M2,0.5 L8,0.5 L8,5 L2,5 Z M2,2.75 L8,2.75 M3.2,5.3 L1,8 M2.5,6.6 L9,6.6 L8.6,10 L7.5,9.5 M5,6.6 L3,9.6 M7,6.6 L5,9.8" fill="none" stroke="#000" stroke-width="1.1" vector-effect="non-scaling-stroke" stroke-linecap="square" stroke-linejoin="miter"/></g>
<path d="M267,0 V14 M265,12.5 H279" stroke="#404040" stroke-width="1.2" fill="none"/>
<path d="M279,11 L280.5,12.5 L279,14" stroke="#404040" stroke-width="1" fill="none"/>
<path d="M272,11 V4 M271,9 H273 M275,8 V1 M274,4 H276" stroke="#10a010" stroke-width="1.3" fill="none"/>
<path d="M295,0 V14 M293,12.5 H307" stroke="#404040" stroke-width="1.2" fill="none"/>
<path d="M307,11 L308.5,12.5 L307,14" stroke="#404040" stroke-width="1" fill="none"/>
<rect x="299.5" y="0" width="4" height="8" fill="#20c020" stroke="#108010" stroke-width="0.8"/><line x1="301.5" y1="8" x2="301.5" y2="11" stroke="#108010"/>
<path d="M323,0 V14 M321,12.5 H335" stroke="#404040" stroke-width="1.2" fill="none"/>
<path d="M335,11 L336.5,12.5 L335,14" stroke="#404040" stroke-width="1" fill="none"/>
<path d="M323,9 C326,2 330,1 335,7" stroke="#20a020" stroke-width="1.2" fill="none"/>
<line x1="361" y1="5" x2="367" y2="12" stroke="#c8a030" stroke-width="2.5"/>
<circle cx="358" cy="2" r="5" fill="#d0e8fa" stroke="#3a80d0" stroke-width="1.5"/>
<path d="M355.5,2 H360.5" stroke="#3070c0" stroke-width="1.5"/>
<path d="M358,-0.5 V4.5" stroke="#3070c0" stroke-width="1.5"/>
<line x1="390" y1="5" x2="396" y2="12" stroke="#c8a030" stroke-width="2.5"/>
<circle cx="387" cy="2" r="5" fill="#d0e8fa" stroke="#3a80d0" stroke-width="1.5"/>
<path d="M384.5,2 H389.5" stroke="#3070c0" stroke-width="1.5"/>
<rect x="409" y="-1" width="8" height="6" fill="#30a030"/><rect x="418" y="-1" width="8" height="6" fill="#3070d0"/><rect x="409" y="7" width="8" height="6" fill="#3070d0"/><rect x="418" y="7" width="8" height="6" fill="#30a030"/>
<path d="M411,2 H415 M420,2 H424 M411,10 H415 M420,10 H424" stroke="#fff" stroke-width="1"/>
<path d="M446,0 V14 M444,12.5 H458" stroke="#404040" stroke-width="1.2" fill="none"/>
<path d="M458,11 L459.5,12.5 L458,14" stroke="#404040" stroke-width="1" fill="none"/>
<path d="M451,2 L456,5.5 L451,9 Z" fill="#20b020"/>
<path d="M474,0 V14 M472,12.5 H486" stroke="#404040" stroke-width="1.2" fill="none"/>
<path d="M486,11 L487.5,12.5 L486,14" stroke="#404040" stroke-width="1" fill="none"/>
<line x1="481.5" y1="-1" x2="481.5" y2="13" stroke="#2060c0" stroke-width="1"/><path d="M487,5 L483,5 M485,3 L483,5 L485,7" stroke="#e04010" stroke-width="1.2" fill="none"/>
<rect x="506" y="-2" width="9" height="11" fill="#fff" stroke="#808080" stroke-width="0.8"/>
<path d="M516,4.5 V15.5 M510.5,10 H521.5" stroke="#10c010" stroke-width="3"/>
<path d="M526,7 L531,7 L528.5,10 Z" fill="#000"/>
<circle cx="552" cy="6" r="6.5" fill="#e8f2ff" stroke="#2a70d0" stroke-width="2"/>
<path d="M552,2 V6 H555" stroke="#303030" stroke-width="0.9" fill="none"/>
<path d="M567,7 L572,7 L569.5,10 Z" fill="#000"/>
<rect x="584.5" y="-1" width="15" height="13" fill="#fff" stroke="#3a70c0" stroke-width="1"/>
<rect x="585" y="-1" width="14" height="2.5" fill="#4a80d0"/>
<path d="M586,4 L590,3 L594,4 L598,3 M586,9 L590,7 L594,9 L598,7" stroke="#c03020" stroke-width="0.9" fill="none"/>
<path d="M586,9 L590,7.5 L594,9.5 L598,7.5" stroke="#20a020" stroke-width="0.9" fill="none"/>
<path d="M606,7 L611,7 L608.5,10 Z" fill="#000"/>
<path d="M634,0 L634,12 L637,9 L639.5,14 L641,13 L638.8,8.5 L643,8.5 Z" fill="#505050"/>
<path d="M668,1 V13 M661,6.5 H675" stroke="#606060" stroke-width="1" fill="none" shape-rendering="crispEdges"/>
<rect x="702.5" y="1" width="1" height="13" fill="#606060"/>
<rect x="724" y="6" width="12" height="1" fill="#606060"/>
<line x1="751" y1="12" x2="762" y2="1" stroke="#707070" stroke-width="1"/>
<path d="M778,12 L789,1 M780,8 L788,0 M779,5 H790 M778,9 H789" stroke="#606060" stroke-width="1" fill="none"/>
<text x="789" y="15" font-size="7" fill="#404040" text-anchor="start" font-weight="bold" >E</text>
<path d="M807,2 H817 M807,5 H817 M807,8 H817" stroke="#707070" stroke-width="1" stroke-dasharray="1,1" fill="none"/>
<text x="816" y="15" font-size="7" fill="#404040" text-anchor="start" font-weight="bold" >F</text>
<text x="837" y="11" font-size="12" fill="#505050" text-anchor="start" font-weight="bold" >A</text>
<rect x="864.5" y="0.5" width="11" height="12" fill="none" stroke="#505050" stroke-width="0.8" stroke-dasharray="1,1"/>
<text x="866.5" y="11" font-size="11" fill="#505050" text-anchor="start" font-weight="bold" >T</text>
<path d="M893,3 L896,0 L899,3 L896,6 Z M900,9 L903,6 L906,9 L903,12 Z M894,6 L898,10 L904,2" fill="#505050" stroke="#505050" stroke-width="0.8"/>
<path d="M911,5 L916,5 L913.5,8 Z" fill="#000"/>
<text x="939" y="10.5" font-size="10.5" fill="#303030" text-anchor="start" font-weight="normal" textLength="12.5" lengthAdjust="spacingAndGlyphs" >M1</text>
<text x="966" y="10.5" font-size="10.5" fill="#303030" text-anchor="start" font-weight="normal" textLength="14" lengthAdjust="spacingAndGlyphs" >M5</text>
<text x="992" y="10.5" font-size="10.5" fill="#303030" text-anchor="start" font-weight="normal" textLength="18.5" lengthAdjust="spacingAndGlyphs" >M15</text>
<text x="1020.5" y="10.5" font-size="10.5" fill="#303030" text-anchor="start" font-weight="normal" textLength="17.5" lengthAdjust="spacingAndGlyphs" >M30</text>
<text x="1051" y="10.5" font-size="10.5" fill="#303030" text-anchor="start" font-weight="normal" textLength="13" lengthAdjust="spacingAndGlyphs" >H1</text>
<text x="1078.5" y="10.5" font-size="10.5" fill="#303030" text-anchor="start" font-weight="normal" textLength="12.5" lengthAdjust="spacingAndGlyphs" >H4</text>
<text x="1108" y="10.5" font-size="10.5" fill="#303030" text-anchor="start" font-weight="normal" textLength="11.5" lengthAdjust="spacingAndGlyphs" >D1</text>
<text x="1134" y="10.5" font-size="10.5" fill="#303030" text-anchor="start" font-weight="normal" textLength="15" lengthAdjust="spacingAndGlyphs" >W1</text>
<text x="1161" y="10.5" font-size="10.5" fill="#303030" text-anchor="start" font-weight="normal" textLength="15" lengthAdjust="spacingAndGlyphs" >MN</text>
<circle cx="1654" cy="2.5" r="3.5" fill="none" stroke="#3070d0" stroke-width="1.5"/>
<line x1="1651.5" y1="5.5" x2="1647" y2="10" stroke="#3070d0" stroke-width="2"/>
<ellipse cx="1677" cy="8" rx="5" ry="3.5" fill="#e0e0e8" stroke="#b0b0b8" stroke-width="0.8"/>
<path d="M1673,10 L1672,14 L1676,11 Z" fill="#c0c0c8"/>
<circle cx="1685" cy="3" r="7.5" fill="#e03020"/>
<text x="1682.5" y="7.5" font-size="11" fill="#fff" text-anchor="start" font-weight="bold" >1</text>
</svg>

</body></html>
